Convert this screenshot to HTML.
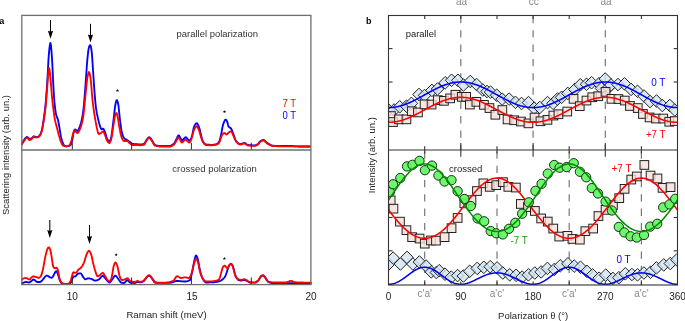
<!DOCTYPE html>
<html><head><meta charset="utf-8"><style>
html,body{margin:0;padding:0;background:#fff;width:685px;height:321px;overflow:hidden}
svg{display:block;will-change:transform}
</style></head><body>
<svg width="685" height="321" viewBox="0 0 685 321" font-family='"Liberation Sans", sans-serif'>
<rect width="685" height="321" fill="#fff"/>
<g fill="none" stroke-linejoin="round" stroke-linecap="round">
<path d="M21.9,143.5 22.4,142.6 22.9,141.7 23.4,140.8 23.9,140.1 24.4,139.5 24.9,138.8 25.4,138.1 25.9,137.6 26.4,137.2 26.9,137.0 27.4,137.1 27.9,137.5 28.4,138.0 28.9,138.5 29.4,138.9 29.9,139.0 30.4,138.9 30.9,138.7 31.4,138.4 31.9,138.1 32.4,137.7 32.9,137.1 33.4,136.6 33.9,136.3 34.4,136.4 34.9,136.6 35.4,136.8 35.9,137.0 36.4,137.0 36.9,136.9 37.4,136.9 37.9,136.8 38.4,136.6 38.9,136.2 39.4,135.7 39.9,135.1 40.4,134.4 40.9,133.2 41.4,131.8 41.9,129.9 42.4,127.4 42.9,124.5 43.4,121.3 43.9,117.7 44.4,114.1 44.9,110.3 45.4,106.0 45.9,100.6 46.4,94.3 46.9,87.1 47.4,79.5 47.9,70.8 48.4,60.9 48.9,53.9 49.4,48.7 49.9,44.6 50.4,43.0 50.9,45.1 51.4,50.2 51.9,56.7 52.4,65.1 52.9,76.7 53.4,86.7 53.9,95.0 54.4,101.9 54.9,106.7 55.4,110.6 55.9,113.5 56.4,115.5 56.9,116.9 57.4,118.1 57.9,119.6 58.4,121.8 58.9,124.5 59.4,127.4 59.9,130.5 60.4,133.7 60.9,136.5 61.4,138.6 61.9,140.3 62.4,141.7 62.9,143.2 63.4,144.5 63.9,145.4 64.4,145.7 64.9,145.9 65.4,146.1 65.9,146.2 66.4,146.3 66.9,146.3 67.4,146.3 67.9,146.2 68.4,146.1 68.9,146.0 69.4,145.8 69.9,145.5 70.4,145.2 70.9,144.3 71.4,143.2 71.9,141.8 72.4,139.6 72.9,136.3 73.4,133.4 73.9,131.7 74.4,130.3 74.9,129.5 75.4,129.6 75.9,129.9 76.4,130.4 76.9,130.8 77.4,131.0 77.9,130.8 78.4,130.1 78.9,129.0 79.4,127.7 79.9,126.3 80.4,124.8 80.9,123.2 81.4,121.3 81.9,119.1 82.4,116.5 82.9,113.6 83.4,110.0 83.9,104.9 84.4,99.0 84.9,92.6 85.4,86.2 85.9,79.6 86.4,72.3 86.9,65.0 87.4,59.0 87.9,54.3 88.4,50.1 88.9,47.3 89.4,46.0 89.9,45.2 90.4,45.2 90.9,46.8 91.4,49.4 91.9,53.7 92.4,60.8 92.9,68.6 93.4,75.9 93.9,83.6 94.4,90.7 94.9,96.9 95.4,102.6 95.9,107.2 96.4,110.6 96.9,113.4 97.4,115.8 97.9,118.1 98.4,120.2 98.9,122.3 99.4,124.1 99.9,125.7 100.4,127.2 100.9,128.5 101.4,129.3 101.9,129.2 102.4,128.9 102.9,128.7 103.4,128.9 103.9,129.6 104.4,130.6 104.9,131.8 105.4,133.1 105.9,134.9 106.4,136.8 106.9,138.3 107.4,139.3 107.9,140.3 108.4,141.1 108.9,141.5 109.4,141.3 109.9,140.6 110.4,139.6 110.9,138.3 111.4,136.4 111.9,133.2 112.4,129.3 112.9,124.9 113.4,120.8 113.9,116.7 114.4,112.1 114.9,107.8 115.4,104.5 115.9,102.2 116.4,100.4 116.9,100.1 117.4,101.1 117.9,102.7 118.4,105.2 118.9,109.5 119.4,114.6 119.9,119.2 120.4,123.0 120.9,126.7 121.4,130.1 121.9,132.6 122.4,134.4 122.9,135.9 123.4,137.1 123.9,137.9 124.4,138.4 124.9,138.8 125.4,139.1 125.9,139.4 126.4,139.6 126.9,139.9 127.4,140.3 127.9,140.6 128.4,140.9 128.9,141.3 129.4,141.6 129.9,141.9 130.4,142.3 130.9,142.7 131.4,143.1 131.9,143.5 132.4,143.8 132.9,144.0 133.4,144.0 133.9,144.1 134.4,144.1 134.9,144.1 135.4,144.1 135.9,144.1 136.4,144.2 136.9,144.2 137.4,144.2 137.9,144.3 138.4,144.4 138.9,144.4 139.4,144.5 139.9,144.5 140.4,144.5 140.9,144.5 141.4,144.4 141.9,144.4 142.4,144.3 142.9,144.2 143.4,144.1 143.9,144.0 144.4,143.5 144.9,142.8 145.4,141.9 145.9,140.9 146.4,140.1 146.9,139.5 147.4,138.8 147.9,138.1 148.4,137.6 148.9,137.3 149.4,137.2 149.9,137.5 150.4,138.1 150.9,138.8 151.4,139.6 151.9,140.4 152.4,141.1 152.9,142.0 153.4,142.9 153.9,143.8 154.4,144.5 154.9,145.0 155.4,145.1 155.9,145.3 156.4,145.5 156.9,145.6 157.4,145.7 157.9,145.8 158.4,145.9 158.9,145.9 159.4,146.0 159.9,146.0 160.4,146.0 160.9,146.0 161.4,146.0 161.9,146.0 162.4,146.0 162.9,146.0 163.4,146.0 163.9,146.0 164.4,146.0 164.9,146.0 165.4,145.9 165.9,145.9 166.4,145.9 166.9,145.9 167.4,145.9 167.9,145.9 168.4,145.9 168.9,145.8 169.4,145.8 169.9,145.8 170.4,145.8 170.9,145.6 171.4,145.4 171.9,145.1 172.4,144.8 172.9,144.4 173.4,144.0 173.9,143.6 174.4,143.0 174.9,142.2 175.4,141.2 175.9,140.2 176.4,139.2 176.9,138.2 177.4,137.0 177.9,136.0 178.4,135.4 178.9,135.4 179.4,136.1 179.9,137.0 180.4,137.9 180.9,138.7 181.4,139.6 181.9,140.3 182.4,140.5 182.9,140.0 183.4,139.3 183.9,138.6 184.4,138.1 184.9,137.7 185.4,137.3 185.9,137.2 186.4,137.5 186.9,138.1 187.4,138.8 187.9,139.4 188.4,139.8 188.9,140.1 189.4,140.4 189.9,140.5 190.4,140.2 190.9,139.3 191.4,137.9 191.9,136.3 192.4,134.4 192.9,131.8 193.4,129.2 193.9,127.2 194.4,126.1 194.9,125.1 195.4,124.3 195.9,123.6 196.4,123.3 196.9,123.2 197.4,123.7 197.9,124.5 198.4,125.6 198.9,126.8 199.4,128.2 199.9,130.2 200.4,132.5 200.9,134.6 201.4,136.5 201.9,138.4 202.4,140.1 202.9,141.3 203.4,142.1 203.9,142.8 204.4,143.4 204.9,143.9 205.4,144.3 205.9,144.5 206.4,144.5 206.9,144.6 207.4,144.6 207.9,144.7 208.4,144.7 208.9,144.7 209.4,144.7 209.9,144.8 210.4,144.8 210.9,144.8 211.4,144.8 211.9,144.8 212.4,144.8 212.9,144.8 213.4,144.7 213.9,144.7 214.4,144.6 214.9,144.5 215.4,144.4 215.9,144.3 216.4,144.2 216.9,144.0 217.4,143.6 217.9,143.2 218.4,142.7 218.9,142.1 219.4,141.2 219.9,139.6 220.4,137.6 220.9,135.4 221.4,133.1 221.9,130.3 222.4,127.5 222.9,125.3 223.4,123.8 223.9,122.4 224.4,121.1 224.9,120.2 225.4,119.6 225.9,119.6 226.4,120.1 226.9,121.1 227.4,122.3 227.9,124.4 228.4,126.3 228.9,127.0 229.4,127.4 229.9,127.7 230.4,127.9 230.9,128.4 231.4,129.1 231.9,130.2 232.4,131.5 232.9,132.8 233.4,134.1 233.9,135.6 234.4,137.1 234.9,138.7 235.4,139.9 235.9,140.9 236.4,141.5 236.9,142.0 237.4,142.6 237.9,143.0 238.4,143.4 238.9,143.7 239.4,143.9 239.9,144.0 240.4,144.0 240.9,143.9 241.4,143.8 241.9,143.6 242.4,143.5 242.9,143.3 243.4,143.2 243.9,143.0 244.4,143.0 244.9,143.1 245.4,143.3 245.9,143.7 246.4,144.1 246.9,144.5 247.4,144.8 247.9,145.0 248.4,145.0 248.9,145.1 249.4,145.1 249.9,145.1 250.4,145.2 250.9,145.2 251.4,145.2 251.9,145.2 252.4,145.3 252.9,145.3 253.4,145.3 253.9,145.3 254.4,145.3 254.9,145.3 255.4,145.3 255.9,145.1 256.4,144.9 256.9,144.7 257.4,144.4 257.9,144.1 258.4,143.6 258.9,142.9 259.4,142.1 259.9,141.6 260.4,141.2 260.9,140.9 261.4,140.7 261.9,140.4 262.4,140.2 262.9,140.1 263.4,140.0 263.9,140.0 264.4,140.3 264.9,140.8 265.4,141.4 265.9,141.9 266.4,142.3 266.9,142.7 267.4,143.1 267.9,143.4 268.4,143.7 268.9,144.0 269.4,144.3 269.9,144.6 270.4,144.9 270.9,145.1 271.4,145.3 271.9,145.5 272.4,145.6 272.9,145.7 273.4,145.7 273.9,145.7 274.4,145.8 274.9,145.8 275.4,145.8 275.9,145.8 276.4,145.9 276.9,145.9 277.4,145.9 277.9,145.9 278.4,145.9 278.9,145.9 279.4,145.9 279.9,146.0 280.4,146.0 280.9,146.0 281.4,146.0 281.9,146.0 282.4,146.0 282.9,146.0 283.4,146.0 283.9,146.0 284.4,146.0 284.9,146.0 285.4,146.0 285.9,146.0 286.4,146.0 286.9,146.0 287.4,146.0 287.9,146.0 288.4,146.0 288.9,146.0 289.4,146.0 289.9,146.0 290.4,146.0 290.9,146.0 291.4,146.0 291.9,146.0 292.4,146.1 292.9,146.1 293.4,146.1 293.9,146.2 294.4,146.2 294.9,146.2 295.4,146.3 295.9,146.3 296.4,146.4 296.9,146.4 297.4,146.4 297.9,146.4 298.4,146.5 298.9,146.5 299.4,146.5 299.9,146.5 300.4,146.5 300.9,146.5 301.4,146.5 301.9,146.5 302.4,146.5 302.9,146.5 303.4,146.5 303.9,146.5 304.4,146.5 304.9,146.5 305.4,146.5 305.9,146.5 306.4,146.5 306.9,146.5 307.4,146.5 307.9,146.5 308.4,146.5 308.9,146.5 309.4,146.5 309.9,146.5" stroke="#0000ff" stroke-width="1.85"/>
<path d="M21.9,144.5 22.4,143.6 22.9,142.7 23.4,141.9 23.9,141.1 24.4,140.4 24.9,139.7 25.4,139.0 25.9,138.4 26.4,138.0 26.9,137.8 27.4,137.9 27.9,138.4 28.4,139.0 28.9,139.5 29.4,140.0 29.9,140.1 30.4,139.9 30.9,139.5 31.4,139.0 31.9,138.6 32.4,138.1 32.9,137.6 33.4,137.1 33.9,136.8 34.4,136.9 34.9,137.1 35.4,137.3 35.9,137.5 36.4,137.5 36.9,137.4 37.4,137.4 37.9,137.3 38.4,137.1 38.9,136.7 39.4,136.2 39.9,135.6 40.4,134.9 40.9,133.7 41.4,132.3 41.9,130.5 42.4,128.2 42.9,125.6 43.4,122.8 43.9,119.7 44.4,116.4 44.9,112.9 45.4,108.9 45.9,103.8 46.4,97.5 46.9,90.9 47.4,84.8 47.9,77.9 48.4,71.4 48.9,67.9 49.4,69.0 49.9,73.0 50.4,78.0 50.9,83.2 51.4,89.7 51.9,95.9 52.4,100.9 52.9,105.3 53.4,109.2 53.9,113.0 54.4,116.5 54.9,119.5 55.4,121.9 55.9,123.9 56.4,125.8 56.9,127.6 57.4,129.6 57.9,131.6 58.4,133.5 58.9,135.4 59.4,137.1 59.9,138.8 60.4,140.4 60.9,141.8 61.4,142.9 61.9,144.0 62.4,144.9 62.9,145.4 63.4,145.7 63.9,145.9 64.4,146.1 64.9,146.2 65.4,146.3 65.9,146.3 66.4,146.3 66.9,146.2 67.4,146.1 67.9,146.0 68.4,145.8 68.9,145.5 69.4,145.2 69.9,144.4 70.4,143.4 70.9,142.2 71.4,140.7 71.9,138.6 72.4,136.3 72.9,134.3 73.4,132.7 73.9,131.2 74.4,130.3 74.9,130.5 75.4,131.2 75.9,131.9 76.4,132.4 76.9,132.8 77.4,133.0 77.9,132.8 78.4,132.3 78.9,131.4 79.4,130.3 79.9,129.2 80.4,128.0 80.9,126.7 81.4,125.0 81.9,123.1 82.4,121.0 82.9,118.5 83.4,115.4 83.9,111.1 84.4,106.1 84.9,100.9 85.4,95.9 85.9,91.1 86.4,85.9 86.9,81.1 87.4,77.5 87.9,75.1 88.4,73.1 88.9,72.0 89.4,72.6 89.9,74.6 90.4,77.4 90.9,81.2 91.4,86.9 91.9,93.3 92.4,99.1 92.9,103.4 93.4,107.4 93.9,111.0 94.4,114.4 94.9,117.5 95.4,120.4 95.9,123.1 96.4,125.6 96.9,127.9 97.4,130.3 97.9,132.4 98.4,133.7 98.9,134.0 99.4,133.9 99.9,133.7 100.4,133.4 100.9,133.1 101.4,132.7 101.9,132.2 102.4,131.7 102.9,131.5 103.4,131.7 103.9,132.5 104.4,133.6 104.9,134.8 105.4,136.0 105.9,137.6 106.4,139.1 106.9,140.3 107.4,141.1 107.9,141.9 108.4,142.5 108.9,142.9 109.4,143.0 109.9,142.5 110.4,141.5 110.9,140.3 111.4,138.5 111.9,135.8 112.4,132.4 112.9,128.9 113.4,125.6 113.9,122.5 114.4,119.2 114.9,116.2 115.4,114.2 115.9,113.3 116.4,113.0 116.9,114.0 117.4,115.7 117.9,117.8 118.4,120.9 118.9,124.3 119.4,127.5 119.9,130.1 120.4,132.7 120.9,135.0 121.4,136.7 121.9,138.0 122.4,139.1 122.9,140.0 123.4,140.7 123.9,141.0 124.4,141.0 124.9,141.0 125.4,141.0 125.9,141.0 126.4,141.0 126.9,141.0 127.4,141.1 127.9,141.4 128.4,141.9 128.9,142.5 129.4,143.0 129.9,143.4 130.4,143.8 130.9,144.1 131.4,144.4 131.9,144.7 132.4,144.9 132.9,145.0 133.4,145.0 133.9,145.0 134.4,145.0 134.9,145.0 135.4,145.0 135.9,145.0 136.4,145.0 136.9,145.0 137.4,145.0 137.9,145.0 138.4,145.1 138.9,145.1 139.4,145.2 139.9,145.2 140.4,145.2 140.9,145.2 141.4,145.1 141.9,145.1 142.4,145.0 142.9,145.0 143.4,144.9 143.9,144.8 144.4,144.3 144.9,143.6 145.4,142.6 145.9,141.7 146.4,140.8 146.9,140.1 147.4,139.4 147.9,138.7 148.4,138.1 148.9,137.8 149.4,137.7 149.9,138.1 150.4,138.7 150.9,139.5 151.4,140.3 151.9,141.1 152.4,141.8 152.9,142.6 153.4,143.5 153.9,144.4 154.4,145.0 154.9,145.5 155.4,145.6 155.9,145.8 156.4,146.0 156.9,146.1 157.4,146.2 157.9,146.3 158.4,146.4 158.9,146.4 159.4,146.5 159.9,146.5 160.4,146.5 160.9,146.5 161.4,146.5 161.9,146.5 162.4,146.5 162.9,146.5 163.4,146.5 163.9,146.5 164.4,146.5 164.9,146.5 165.4,146.5 165.9,146.5 166.4,146.5 166.9,146.5 167.4,146.5 167.9,146.5 168.4,146.5 168.9,146.5 169.4,146.5 169.9,146.5 170.4,146.5 170.9,146.4 171.4,146.2 171.9,146.0 172.4,145.7 172.9,145.3 173.4,145.0 173.9,144.6 174.4,144.1 174.9,143.3 175.4,142.5 175.9,141.5 176.4,140.7 176.9,139.8 177.4,138.8 177.9,138.0 178.4,137.5 178.9,137.7 179.4,138.5 179.9,139.4 180.4,140.4 180.9,141.2 181.4,142.0 181.9,142.5 182.4,142.4 182.9,142.0 183.4,141.4 183.9,140.9 184.4,140.4 184.9,139.9 185.4,139.5 185.9,139.6 186.4,140.1 186.9,140.8 187.4,141.4 187.9,141.8 188.4,142.1 188.9,142.4 189.4,142.5 189.9,142.2 190.4,141.4 190.9,140.1 191.4,138.8 191.9,137.3 192.4,135.5 192.9,133.5 193.4,131.7 193.9,130.2 194.4,129.2 194.9,128.1 195.4,127.3 195.9,126.6 196.4,126.3 196.9,126.5 197.4,127.0 197.9,127.9 198.4,128.9 198.9,130.0 199.4,131.5 199.9,133.3 200.4,135.1 200.9,136.6 201.4,138.1 201.9,139.6 202.4,140.8 202.9,141.8 203.4,142.6 203.9,143.3 204.4,143.9 204.9,144.4 205.4,144.8 205.9,145.0 206.4,145.0 206.9,145.1 207.4,145.1 207.9,145.1 208.4,145.1 208.9,145.2 209.4,145.2 209.9,145.2 210.4,145.2 210.9,145.2 211.4,145.2 211.9,145.2 212.4,145.2 212.9,145.2 213.4,145.1 213.9,145.1 214.4,145.0 214.9,145.0 215.4,144.9 215.9,144.8 216.4,144.7 216.9,144.5 217.4,144.3 217.9,144.0 218.4,143.6 218.9,143.1 219.4,142.3 219.9,140.9 220.4,139.3 220.9,137.8 221.4,136.5 221.9,135.2 222.4,134.3 222.9,133.8 223.4,133.4 223.9,133.1 224.4,133.0 224.9,133.2 225.4,133.6 225.9,134.2 226.4,134.5 226.9,134.4 227.4,134.0 227.9,133.4 228.4,132.8 228.9,132.4 229.4,132.1 229.9,131.7 230.4,131.4 230.9,131.3 231.4,131.5 231.9,132.3 232.4,133.4 232.9,134.6 233.4,135.8 233.9,136.8 234.4,137.9 234.9,139.1 235.4,140.2 235.9,141.2 236.4,141.9 236.9,142.4 237.4,142.9 237.9,143.4 238.4,143.8 238.9,144.2 239.4,144.4 239.9,144.5 240.4,144.5 240.9,144.4 241.4,144.3 241.9,144.1 242.4,144.0 242.9,143.8 243.4,143.7 243.9,143.5 244.4,143.5 244.9,143.6 245.4,143.8 245.9,144.2 246.4,144.6 246.9,145.0 247.4,145.3 247.9,145.5 248.4,145.5 248.9,145.6 249.4,145.6 249.9,145.6 250.4,145.7 250.9,145.7 251.4,145.7 251.9,145.7 252.4,145.8 252.9,145.8 253.4,145.8 253.9,145.8 254.4,145.8 254.9,145.8 255.4,145.8 255.9,145.6 256.4,145.4 256.9,145.2 257.4,144.9 257.9,144.6 258.4,144.1 258.9,143.4 259.4,142.6 259.9,142.1 260.4,141.7 260.9,141.4 261.4,141.2 261.9,140.9 262.4,140.7 262.9,140.6 263.4,140.5 263.9,140.5 264.4,140.8 264.9,141.3 265.4,141.9 265.9,142.4 266.4,142.8 266.9,143.2 267.4,143.6 267.9,143.9 268.4,144.2 268.9,144.5 269.4,144.8 269.9,145.0 270.4,145.3 270.9,145.5 271.4,145.7 271.9,145.8 272.4,145.9 272.9,146.0 273.4,146.0 273.9,146.0 274.4,146.1 274.9,146.1 275.4,146.1 275.9,146.1 276.4,146.1 276.9,146.2 277.4,146.2 277.9,146.2 278.4,146.2 278.9,146.2 279.4,146.2 279.9,146.2 280.4,146.2 280.9,146.2 281.4,146.3 281.9,146.3 282.4,146.3 282.9,146.3 283.4,146.3 283.9,146.3 284.4,146.3 284.9,146.3 285.4,146.3 285.9,146.3 286.4,146.3 286.9,146.3 287.4,146.3 287.9,146.3 288.4,146.3 288.9,146.3 289.4,146.4 289.9,146.4 290.4,146.4 290.9,146.4 291.4,146.4 291.9,146.4 292.4,146.4 292.9,146.4 293.4,146.4 293.9,146.4 294.4,146.4 294.9,146.4 295.4,146.4 295.9,146.4 296.4,146.4 296.9,146.4 297.4,146.4 297.9,146.4 298.4,146.4 298.9,146.5 299.4,146.5 299.9,146.5 300.4,146.5 300.9,146.5 301.4,146.5 301.9,146.5 302.4,146.5 302.9,146.5 303.4,146.5 303.9,146.5 304.4,146.5 304.9,146.5 305.4,146.5 305.9,146.5 306.4,146.5 306.9,146.5 307.4,146.5 307.9,146.5 308.4,146.5 308.9,146.5 309.4,146.5 309.9,146.5" stroke="#ff0000" stroke-width="1.85"/>
<path d="M21.9,283.5 22.4,283.2 22.9,282.9 23.4,282.7 23.9,282.5 24.4,282.4 24.9,282.2 25.4,282.1 25.9,282.0 26.4,282.0 26.9,282.1 27.4,282.2 27.9,282.3 28.4,282.4 28.9,282.5 29.4,282.4 29.9,282.2 30.4,281.8 30.9,281.4 31.4,281.1 31.9,280.7 32.4,280.2 32.9,279.7 33.4,279.5 33.9,279.6 34.4,279.9 34.9,280.3 35.4,280.7 35.9,281.2 36.4,281.7 36.9,282.0 37.4,282.0 37.9,282.0 38.4,282.0 38.9,282.0 39.4,282.0 39.9,282.0 40.4,281.9 40.9,281.6 41.4,281.1 41.9,280.6 42.4,280.1 42.9,279.5 43.4,278.9 43.9,278.3 44.4,277.5 44.9,276.9 45.4,276.4 45.9,276.0 46.4,275.7 46.9,275.6 47.4,275.7 47.9,276.0 48.4,276.2 48.9,276.6 49.4,276.9 49.9,277.3 50.4,277.5 50.9,277.7 51.4,277.8 51.9,277.7 52.4,277.2 52.9,276.6 53.4,275.8 53.9,274.7 54.4,273.7 54.9,272.8 55.4,271.9 55.9,271.3 56.4,271.1 56.9,271.7 57.4,272.8 57.9,274.0 58.4,275.7 58.9,277.4 59.4,279.2 59.9,280.6 60.4,281.6 60.9,282.4 61.4,283.0 61.9,283.4 62.4,283.8 62.9,284.0 63.4,284.0 63.9,284.0 64.4,284.0 64.9,284.0 65.4,284.0 65.9,284.0 66.4,284.0 66.9,284.0 67.4,284.0 67.9,284.0 68.4,284.0 68.9,283.8 69.4,283.6 69.9,283.4 70.4,283.0 70.9,282.4 71.4,281.6 71.9,280.2 72.4,278.7 72.9,277.5 73.4,276.5 73.9,276.5 74.4,276.5 74.9,276.5 75.4,276.4 75.9,275.9 76.4,275.3 76.9,274.7 77.4,274.1 77.9,273.7 78.4,273.6 78.9,273.5 79.4,273.4 79.9,273.3 80.4,273.3 80.9,273.4 81.4,273.9 81.9,274.8 82.4,275.8 82.9,276.7 83.4,277.3 83.9,278.0 84.4,278.6 84.9,279.1 85.4,279.3 85.9,279.2 86.4,279.0 86.9,278.7 87.4,278.4 87.9,278.3 88.4,278.3 88.9,278.4 89.4,278.4 89.9,278.5 90.4,278.7 90.9,278.8 91.4,278.9 91.9,279.1 92.4,279.4 92.9,279.7 93.4,280.0 93.9,280.3 94.4,280.5 94.9,280.6 95.4,280.6 95.9,280.5 96.4,280.4 96.9,280.3 97.4,280.1 97.9,279.8 98.4,279.6 98.9,279.4 99.4,279.0 99.9,278.5 100.4,277.9 100.9,277.3 101.4,276.6 101.9,276.2 102.4,275.9 102.9,275.8 103.4,276.1 103.9,276.7 104.4,277.3 104.9,277.9 105.4,278.5 105.9,279.1 106.4,279.7 106.9,280.4 107.4,280.9 107.9,281.4 108.4,281.9 108.9,282.3 109.4,282.5 109.9,282.4 110.4,282.0 110.9,281.3 111.4,280.6 111.9,279.8 112.4,279.1 112.9,278.5 113.4,277.7 113.9,276.9 114.4,276.3 114.9,275.8 115.4,275.6 115.9,275.8 116.4,276.3 116.9,277.0 117.4,277.7 117.9,278.4 118.4,279.0 118.9,279.8 119.4,280.5 119.9,281.3 120.4,282.0 120.9,282.5 121.4,282.7 121.9,282.8 122.4,282.9 122.9,282.9 123.4,283.0 123.9,283.0 124.4,282.9 124.9,282.5 125.4,281.9 125.9,281.3 126.4,280.7 126.9,280.3 127.4,280.1 127.9,280.3 128.4,280.8 128.9,281.5 129.4,282.1 129.9,282.5 130.4,282.6 130.9,282.7 131.4,282.7 131.9,282.8 132.4,282.9 132.9,282.9 133.4,282.9 133.9,283.0 134.4,283.0 134.9,283.0 135.4,282.9 135.9,282.5 136.4,282.3 136.9,282.1 137.4,282.0 137.9,282.0 138.4,282.1 138.9,282.2 139.4,282.3 139.9,282.3 140.4,282.3 140.9,282.2 141.4,282.2 141.9,282.0 142.4,281.9 142.9,281.7 143.4,281.5 143.9,281.0 144.4,280.4 144.9,279.8 145.4,279.1 145.9,278.5 146.4,277.8 146.9,277.1 147.4,276.6 147.9,276.2 148.4,275.9 148.9,275.7 149.4,275.6 149.9,275.9 150.4,276.5 150.9,277.1 151.4,277.7 151.9,278.4 152.4,279.1 152.9,279.9 153.4,280.6 153.9,281.4 154.4,282.2 154.9,282.6 155.4,282.7 155.9,282.7 156.4,282.7 156.9,282.8 157.4,282.8 157.9,282.8 158.4,282.8 158.9,282.8 159.4,282.8 159.9,282.8 160.4,282.8 160.9,282.8 161.4,282.8 161.9,282.8 162.4,282.8 162.9,282.8 163.4,282.8 163.9,282.8 164.4,282.8 164.9,282.8 165.4,282.8 165.9,282.8 166.4,282.8 166.9,282.8 167.4,282.8 167.9,282.8 168.4,282.8 168.9,282.8 169.4,282.8 169.9,282.8 170.4,282.8 170.9,282.7 171.4,282.6 171.9,282.5 172.4,282.3 172.9,282.1 173.4,281.9 173.9,281.7 174.4,281.6 174.9,281.4 175.4,281.2 175.9,281.1 176.4,281.0 176.9,281.0 177.4,281.0 177.9,281.0 178.4,281.0 178.9,281.1 179.4,281.1 179.9,281.1 180.4,281.2 180.9,281.2 181.4,281.3 181.9,281.3 182.4,281.4 182.9,281.4 183.4,281.4 183.9,281.5 184.4,281.5 184.9,281.5 185.4,281.5 185.9,281.5 186.4,281.4 186.9,281.3 187.4,281.2 187.9,281.0 188.4,280.8 188.9,280.6 189.4,280.3 189.9,280.1 190.4,279.4 190.9,277.7 191.4,275.5 191.9,272.9 192.4,270.5 192.9,268.1 193.4,265.4 193.9,262.7 194.4,260.4 194.9,258.4 195.4,256.6 195.9,255.5 196.4,255.7 196.9,256.6 197.4,257.8 197.9,259.4 198.4,262.0 198.9,264.9 199.4,267.6 199.9,269.7 200.4,271.8 200.9,273.7 201.4,275.4 201.9,276.8 202.4,277.8 202.9,278.8 203.4,279.8 203.9,280.6 204.4,281.4 204.9,281.9 205.4,282.3 205.9,282.5 206.4,282.5 206.9,282.5 207.4,282.5 207.9,282.5 208.4,282.5 208.9,282.4 209.4,282.4 209.9,282.4 210.4,282.4 210.9,282.4 211.4,282.3 211.9,282.3 212.4,282.3 212.9,282.3 213.4,282.2 213.9,282.2 214.4,282.2 214.9,282.1 215.4,282.1 215.9,282.0 216.4,281.9 216.9,281.9 217.4,281.8 217.9,281.6 218.4,281.5 218.9,281.4 219.4,281.2 219.9,281.0 220.4,280.8 220.9,280.6 221.4,280.3 221.9,279.9 222.4,279.6 222.9,279.2 223.4,278.7 223.9,278.2 224.4,277.6 224.9,276.8 225.4,275.8 225.9,274.6 226.4,273.2 226.9,271.7 227.4,270.1 227.9,268.6 228.4,267.2 228.9,266.0 229.4,265.2 229.9,264.6 230.4,264.1 230.9,263.9 231.4,264.0 231.9,264.5 232.4,265.3 232.9,266.2 233.4,268.0 233.9,270.1 234.4,272.0 234.9,274.0 235.4,275.5 235.9,276.6 236.4,277.6 236.9,278.4 237.4,279.0 237.9,279.6 238.4,280.0 238.9,280.1 239.4,280.3 239.9,280.4 240.4,280.5 240.9,280.5 241.4,280.5 241.9,280.4 242.4,280.3 242.9,280.2 243.4,280.1 243.9,280.0 244.4,280.0 244.9,280.0 245.4,280.2 245.9,280.4 246.4,280.7 246.9,281.0 247.4,281.2 247.9,281.5 248.4,281.8 248.9,282.1 249.4,282.4 249.9,282.5 250.4,282.5 250.9,282.5 251.4,282.5 251.9,282.6 252.4,282.6 252.9,282.6 253.4,282.6 253.9,282.6 254.4,282.6 254.9,282.6 255.4,282.6 255.9,282.4 256.4,282.1 256.9,281.7 257.4,281.4 257.9,280.9 258.4,280.4 258.9,279.7 259.4,278.9 259.9,278.1 260.4,277.1 260.9,276.4 261.4,276.0 261.9,275.8 262.4,275.6 262.9,275.5 263.4,275.6 263.9,276.0 264.4,276.6 264.9,277.2 265.4,277.9 265.9,278.8 266.4,279.7 266.9,280.3 267.4,281.0 267.9,281.6 268.4,281.9 268.9,282.2 269.4,282.4 269.9,282.6 270.4,282.7 270.9,282.9 271.4,283.0 271.9,283.0 272.4,283.0 272.9,283.0 273.4,283.0 273.9,283.0 274.4,283.1 274.9,283.1 275.4,283.1 275.9,283.1 276.4,283.1 276.9,283.1 277.4,283.1 277.9,283.1 278.4,283.1 278.9,283.1 279.4,283.1 279.9,283.1 280.4,283.1 280.9,283.1 281.4,283.1 281.9,283.1 282.4,283.1 282.9,283.1 283.4,283.1 283.9,283.2 284.4,283.2 284.9,283.2 285.4,283.2 285.9,283.2 286.4,283.2 286.9,283.2 287.4,283.2 287.9,283.2 288.4,283.2 288.9,283.2 289.4,283.2 289.9,283.2 290.4,283.2 290.9,283.2 291.4,283.2 291.9,283.2 292.4,283.2 292.9,283.2 293.4,283.2 293.9,283.2 294.4,283.3 294.9,283.3 295.4,283.3 295.9,283.3 296.4,283.3 296.9,283.3 297.4,283.3 297.9,283.3 298.4,283.3 298.9,283.3 299.4,283.3 299.9,283.3 300.4,283.3 300.9,283.3 301.4,283.4 301.9,283.4 302.4,283.4 302.9,283.4 303.4,283.4 303.9,283.4 304.4,283.4 304.9,283.4 305.4,283.4 305.9,283.4 306.4,283.4 306.9,283.4 307.4,283.4 307.9,283.5 308.4,283.5 308.9,283.5 309.4,283.5 309.9,283.5 310.4,283.5 310.9,283.5" stroke="#0000ff" stroke-width="1.85"/>
<path d="M21.9,279.7 22.4,279.3 22.9,278.9 23.4,278.5 23.9,278.3 24.4,278.2 24.9,278.1 25.4,278.1 25.9,278.0 26.4,278.0 26.9,278.2 27.4,278.6 27.9,279.0 28.4,279.2 28.9,279.4 29.4,279.5 29.9,279.3 30.4,278.8 30.9,278.1 31.4,277.6 31.9,277.2 32.4,276.8 32.9,276.5 33.4,276.4 33.9,276.4 34.4,276.5 34.9,276.6 35.4,276.8 35.9,276.9 36.4,277.1 36.9,277.3 37.4,277.5 37.9,277.8 38.4,278.0 38.9,277.9 39.4,277.5 39.9,277.1 40.4,276.6 40.9,276.1 41.4,275.0 41.9,273.3 42.4,271.5 42.9,269.5 43.4,267.1 43.9,264.4 44.4,261.5 44.9,258.9 45.4,256.4 45.9,254.1 46.4,252.1 46.9,250.3 47.4,249.1 47.9,248.0 48.4,247.3 48.9,247.3 49.4,247.8 49.9,248.8 50.4,250.2 50.9,252.5 51.4,255.3 51.9,258.8 52.4,262.4 52.9,265.4 53.4,266.9 53.9,267.7 54.4,268.0 54.9,268.1 55.4,268.1 55.9,267.9 56.4,267.7 56.9,267.8 57.4,268.8 57.9,270.4 58.4,272.2 58.9,275.1 59.4,278.0 59.9,279.7 60.4,280.9 60.9,281.8 61.4,282.4 61.9,282.9 62.4,283.2 62.9,283.5 63.4,283.6 63.9,283.7 64.4,283.8 64.9,283.9 65.4,284.0 65.9,284.0 66.4,284.0 66.9,283.9 67.4,283.8 67.9,283.7 68.4,283.5 68.9,283.3 69.4,282.8 69.9,282.2 70.4,281.4 70.9,280.4 71.4,278.6 71.9,276.4 72.4,274.6 72.9,272.9 73.4,272.2 73.9,272.3 74.4,272.6 74.9,272.8 75.4,272.8 75.9,272.7 76.4,272.5 76.9,272.1 77.4,271.1 77.9,270.1 78.4,269.6 78.9,269.2 79.4,268.9 79.9,268.6 80.4,268.2 80.9,267.8 81.4,267.2 81.9,266.5 82.4,265.7 82.9,264.8 83.4,263.8 83.9,262.7 84.4,261.5 84.9,259.9 85.4,258.1 85.9,256.4 86.4,254.9 86.9,253.8 87.4,252.7 87.9,251.8 88.4,251.1 88.9,250.8 89.4,251.1 89.9,251.7 90.4,252.7 90.9,253.8 91.4,255.2 91.9,257.3 92.4,259.8 92.9,262.1 93.4,264.1 93.9,266.1 94.4,268.0 94.9,269.8 95.4,271.3 95.9,272.9 96.4,274.4 96.9,275.6 97.4,276.2 97.9,276.1 98.4,276.0 98.9,275.7 99.4,275.4 99.9,275.1 100.4,274.7 100.9,274.2 101.4,273.7 101.9,273.3 102.4,273.0 102.9,272.9 103.4,273.3 103.9,274.0 104.4,275.0 104.9,275.8 105.4,276.6 105.9,277.5 106.4,278.4 106.9,279.2 107.4,279.9 107.9,280.4 108.4,281.0 108.9,281.3 109.4,281.5 109.9,281.2 110.4,280.6 110.9,279.7 111.4,278.3 111.9,276.0 112.4,273.5 112.9,270.3 113.4,267.3 113.9,265.5 114.4,264.0 114.9,262.9 115.4,262.5 115.9,262.8 116.4,263.6 116.9,264.8 117.4,266.1 117.9,268.2 118.4,270.5 118.9,273.0 119.4,275.5 119.9,277.0 120.4,278.1 120.9,279.0 121.4,279.7 121.9,280.0 122.4,280.0 122.9,279.9 123.4,279.8 123.9,279.7 124.4,279.5 124.9,279.4 125.4,279.1 125.9,278.8 126.4,278.5 126.9,278.3 127.4,278.2 127.9,278.4 128.4,279.0 128.9,279.8 129.4,280.5 129.9,281.0 130.4,281.1 130.9,281.3 131.4,281.5 131.9,281.6 132.4,281.7 132.9,281.8 133.4,281.9 133.9,281.9 134.4,282.0 134.9,282.0 135.4,281.9 135.9,281.5 136.4,281.3 136.9,281.1 137.4,281.0 137.9,281.1 138.4,281.2 138.9,281.5 139.4,281.7 139.9,281.8 140.4,281.8 140.9,281.7 141.4,281.7 141.9,281.5 142.4,281.4 142.9,281.2 143.4,281.0 143.9,280.5 144.4,279.9 144.9,279.3 145.4,278.6 145.9,278.0 146.4,277.3 146.9,276.6 147.4,276.1 147.9,275.7 148.4,275.5 148.9,275.3 149.4,275.2 149.9,275.5 150.4,276.1 150.9,276.7 151.4,277.3 151.9,278.0 152.4,278.7 152.9,279.4 153.4,280.1 153.9,280.8 154.4,281.5 154.9,282.0 155.4,282.1 155.9,282.3 156.4,282.4 156.9,282.5 157.4,282.6 157.9,282.6 158.4,282.6 158.9,282.6 159.4,282.6 159.9,282.6 160.4,282.6 160.9,282.6 161.4,282.6 161.9,282.6 162.4,282.6 162.9,282.6 163.4,282.6 163.9,282.6 164.4,282.6 164.9,282.6 165.4,282.6 165.9,282.6 166.4,282.5 166.9,282.5 167.4,282.4 167.9,282.4 168.4,282.3 168.9,282.2 169.4,282.1 169.9,282.0 170.4,281.8 170.9,281.7 171.4,281.5 171.9,281.4 172.4,281.2 172.9,281.0 173.4,280.8 173.9,280.2 174.4,279.5 174.9,278.7 175.4,277.9 175.9,277.2 176.4,276.6 176.9,276.3 177.4,276.2 177.9,276.4 178.4,276.6 178.9,277.0 179.4,277.3 179.9,277.6 180.4,277.9 180.9,278.0 181.4,278.0 181.9,277.9 182.4,277.8 182.9,277.7 183.4,277.5 183.9,277.4 184.4,277.3 184.9,277.3 185.4,277.3 185.9,277.4 186.4,277.5 186.9,277.6 187.4,277.8 187.9,277.9 188.4,278.0 188.9,278.0 189.4,277.8 189.9,277.2 190.4,276.2 190.9,275.0 191.4,273.7 191.9,272.3 192.4,270.7 192.9,268.6 193.4,266.3 193.9,264.1 194.4,262.3 194.9,260.9 195.4,259.5 195.9,258.8 196.4,259.0 196.9,259.6 197.4,260.6 197.9,261.8 198.4,263.5 198.9,266.2 199.4,269.2 199.9,271.6 200.4,273.3 200.9,274.7 201.4,276.0 201.9,277.2 202.4,278.1 202.9,278.9 203.4,279.5 203.9,280.1 204.4,280.6 204.9,281.1 205.4,281.4 205.9,281.5 206.4,281.5 206.9,281.5 207.4,281.5 207.9,281.5 208.4,281.5 208.9,281.4 209.4,281.4 209.9,281.4 210.4,281.4 210.9,281.4 211.4,281.3 211.9,281.3 212.4,281.3 212.9,281.2 213.4,281.2 213.9,281.1 214.4,281.1 214.9,281.0 215.4,280.9 215.9,280.8 216.4,280.7 216.9,280.6 217.4,280.4 217.9,280.2 218.4,279.9 218.9,279.6 219.4,278.9 219.9,277.5 220.4,275.8 220.9,274.0 221.4,271.9 221.9,270.1 222.4,268.4 222.9,267.1 223.4,266.5 223.9,266.0 224.4,265.7 224.9,265.6 225.4,266.1 225.9,266.9 226.4,267.5 226.9,268.0 227.4,268.3 227.9,267.8 228.4,266.7 228.9,265.6 229.4,265.0 229.9,264.5 230.4,264.0 230.9,263.8 231.4,264.0 231.9,264.7 232.4,265.6 232.9,266.7 233.4,268.5 233.9,270.6 234.4,272.5 234.9,274.4 235.4,275.7 235.9,276.7 236.4,277.5 236.9,278.1 237.4,278.6 237.9,279.1 238.4,279.4 238.9,279.5 239.4,279.6 239.9,279.7 240.4,279.8 240.9,279.8 241.4,279.8 241.9,279.7 242.4,279.6 242.9,279.5 243.4,279.3 243.9,279.2 244.4,279.2 244.9,279.3 245.4,279.5 245.9,279.8 246.4,280.1 246.9,280.4 247.4,280.7 247.9,281.1 248.4,281.5 248.9,281.8 249.4,282.1 249.9,282.2 250.4,282.2 250.9,282.2 251.4,282.2 251.9,282.3 252.4,282.3 252.9,282.3 253.4,282.3 253.9,282.3 254.4,282.3 254.9,282.3 255.4,282.3 255.9,282.1 256.4,281.8 256.9,281.4 257.4,281.1 257.9,280.6 258.4,280.1 258.9,279.4 259.4,278.6 259.9,277.8 260.4,276.8 260.9,276.1 261.4,275.7 261.9,275.5 262.4,275.3 262.9,275.2 263.4,275.3 263.9,275.7 264.4,276.3 264.9,276.9 265.4,277.6 265.9,278.5 266.4,279.4 266.9,280.0 267.4,280.6 267.9,281.1 268.4,281.5 268.9,281.7 269.4,281.8 269.9,282.0 270.4,282.1 270.9,282.2 271.4,282.3 271.9,282.3 272.4,282.3 272.9,282.3 273.4,282.3 273.9,282.4 274.4,282.4 274.9,282.4 275.4,282.4 275.9,282.4 276.4,282.4 276.9,282.4 277.4,282.4 277.9,282.4 278.4,282.5 278.9,282.5 279.4,282.5 279.9,282.5 280.4,282.5 280.9,282.5 281.4,282.5 281.9,282.5 282.4,282.5 282.9,282.5 283.4,282.5 283.9,282.5 284.4,282.5 284.9,282.5 285.4,282.5 285.9,282.4 286.4,282.3 286.9,282.1 287.4,282.0 287.9,281.8 288.4,281.7 288.9,281.5 289.4,281.2 289.9,281.0 290.4,280.9 290.9,280.8 291.4,280.9 291.9,281.0 292.4,281.3 292.9,281.6 293.4,281.8 293.9,282.0 294.4,282.1 294.9,282.1 295.4,282.2 295.9,282.2 296.4,282.3 296.9,282.3 297.4,282.4 297.9,282.4 298.4,282.4 298.9,282.5 299.4,282.5 299.9,282.5 300.4,282.5 300.9,282.5 301.4,282.5 301.9,282.5 302.4,282.5 302.9,282.5 303.4,282.6 303.9,282.6 304.4,282.6 304.9,282.6 305.4,282.6 305.9,282.6 306.4,282.6 306.9,282.6 307.4,282.6 307.9,282.6 308.4,282.6 308.9,282.6 309.4,282.6 309.9,282.6 310.4,282.6 310.9,282.6" stroke="#ff0000" stroke-width="1.85"/>
</g>
<g stroke="#6e6e6e" stroke-width="1.3" fill="none">
<rect x="21.8" y="15.4" width="289.1" height="269.2"/>
<line x1="21.8" y1="150" x2="310.9" y2="150"/>
</g>
<g stroke="#2a2a2a" stroke-width="1">
<line x1="72.3" y1="149.5" x2="72.3" y2="142.8"/>
<line x1="72.3" y1="284" x2="72.3" y2="277.5"/>
<line x1="131.6" y1="149.5" x2="131.6" y2="142.8"/>
<line x1="131.6" y1="284" x2="131.6" y2="277.5"/>
<line x1="191.4" y1="149.5" x2="191.4" y2="142.8"/>
<line x1="191.4" y1="284" x2="191.4" y2="277.5"/>
<line x1="251.3" y1="149.5" x2="251.3" y2="142.8"/>
<line x1="251.3" y1="284" x2="251.3" y2="277.5"/>
</g>
<line x1="50.5" y1="20.1" x2="50.5" y2="32.8" stroke="#000" stroke-width="1.05"/><path d="M47.9,30.799999999999997Q50.5,32.199999999999996 53.1,30.799999999999997L50.5,38.8Z" fill="#000"/>
<line x1="90.5" y1="23.8" x2="90.5" y2="36.5" stroke="#000" stroke-width="1.05"/><path d="M87.9,34.5Q90.5,35.9 93.1,34.5L90.5,42.5Z" fill="#000"/>
<line x1="49.8" y1="219.9" x2="49.8" y2="232.1" stroke="#000" stroke-width="1.05"/><path d="M47.199999999999996,230.1Q49.8,231.5 52.4,230.1L49.8,238.1Z" fill="#000"/>
<line x1="89.5" y1="224.9" x2="89.5" y2="238" stroke="#000" stroke-width="1.05"/><path d="M86.9,236Q89.5,237.4 92.1,236L89.5,244Z" fill="#000"/>
<polygon points="117.50,88.80 117.94,89.89 119.12,89.97 118.21,90.73 118.50,91.88 117.50,91.25 116.50,91.88 116.79,90.73 115.88,89.97 117.06,89.89" fill="#111"/>
<polygon points="224.50,110.00 224.94,111.09 226.12,111.17 225.21,111.93 225.50,113.08 224.50,112.45 223.50,113.08 223.79,111.93 222.88,111.17 224.06,111.09" fill="#111"/>
<polygon points="116.20,253.10 116.64,254.19 117.82,254.27 116.91,255.03 117.20,256.18 116.20,255.55 115.20,256.18 115.49,255.03 114.58,254.27 115.76,254.19" fill="#111"/>
<polygon points="224.40,256.80 224.84,257.89 226.02,257.97 225.11,258.73 225.40,259.88 224.40,259.25 223.40,259.88 223.69,258.73 222.78,257.97 223.96,257.89" fill="#111"/>
<text x="176.6" y="37.0" font-size="9.5" fill="#333" textLength="81.4" lengthAdjust="spacingAndGlyphs">parallel polarization</text>
<text x="172.3" y="172.2" font-size="9.5" fill="#333" textLength="84.4" lengthAdjust="spacingAndGlyphs">crossed polarization</text>
<text x="282.6" y="106.9" font-size="10" fill="#ff0000" textLength="13.6" lengthAdjust="spacingAndGlyphs">7 T</text>
<text x="282.6" y="119.4" font-size="10" fill="#0000ff" textLength="13.6" lengthAdjust="spacingAndGlyphs">0 T</text>
<text x="72.3" y="300.2" font-size="10" fill="#222" text-anchor="middle">10</text>
<text x="192" y="300.4" font-size="10" fill="#222" text-anchor="middle">15</text>
<text x="311" y="300.4" font-size="10" fill="#222" text-anchor="middle">20</text>
<text x="126.4" y="318" font-size="9.5" fill="#222" textLength="80.3" lengthAdjust="spacingAndGlyphs">Raman shift (meV)</text>
<text transform="translate(8.8,214.9) rotate(-90)" font-size="9.4" fill="#222" textLength="119.8" lengthAdjust="spacingAndGlyphs">Scattering intensity (arb. un.)</text>
<text x="-0.7" y="24.4" font-size="9" font-weight="bold" fill="#000">a</text>
<text x="365.9" y="24.3" font-size="9" font-weight="bold" fill="#000">b</text>
<g stroke="#777" stroke-width="1.2" stroke-dasharray="7.3,7">
<line x1="460.8" y1="16" x2="460.8" y2="150"/>
<line x1="533.1" y1="16" x2="533.1" y2="150"/>
<line x1="605.3" y1="16" x2="605.3" y2="150"/>
<line x1="424.7" y1="151.4" x2="424.7" y2="285"/>
<line x1="497.0" y1="151.4" x2="497.0" y2="285"/>
<line x1="569.2" y1="151.4" x2="569.2" y2="285"/>
<line x1="641.4" y1="151.4" x2="641.4" y2="285"/>
</g>
<defs><clipPath id="cp"><rect x="388.5" y="15.5" width="289" height="269.5"/></clipPath></defs>
<g clip-path="url(#cp)">
<g fill="#d2e5f3" fill-opacity="0.8" stroke="#222" stroke-width="1">
<path d="M388.5,103.7L394.8,110.0L388.5,116.3L382.2,110.0Z"/>
<path d="M394.1,103.7L400.4,110.0L394.1,116.3L387.8,110.0Z"/>
<path d="M399.7,100.5L406.0,106.8L399.7,113.1L393.4,106.8Z"/>
<path d="M406.5,99.9L412.8,106.2L406.5,112.5L400.2,106.2Z"/>
<path d="M411.4,97.1L417.7,103.4L411.4,109.7L405.1,103.4Z"/>
<path d="M419.0,88.2L425.3,94.5L419.0,100.8L412.7,94.5Z"/>
<path d="M424.5,89.2L430.8,95.5L424.5,101.8L418.2,95.5Z"/>
<path d="M431.9,84.1L438.2,90.4L431.9,96.7L425.6,90.4Z"/>
<path d="M437.5,82.7L443.8,89.0L437.5,95.3L431.2,89.0Z"/>
<path d="M445.2,76.5L451.5,82.8L445.2,89.1L438.9,82.8Z"/>
<path d="M451.6,74.0L457.9,80.3L451.6,86.6L445.3,80.3Z"/>
<path d="M457.9,74.0L464.2,80.3L457.9,86.6L451.6,80.3Z"/>
<path d="M463.5,78.7L469.8,85.0L463.5,91.3L457.2,85.0Z"/>
<path d="M470.3,75.2L476.6,81.5L470.3,87.8L464.0,81.5Z"/>
<path d="M476.6,78.2L482.9,84.5L476.6,90.8L470.3,84.5Z"/>
<path d="M482.8,83.7L489.1,90.0L482.8,96.3L476.5,90.0Z"/>
<path d="M487.0,85.2L493.3,91.5L487.0,97.8L480.7,91.5Z"/>
<path d="M490.5,85.8L496.8,92.1L490.5,98.4L484.2,92.1Z"/>
<path d="M496.7,88.9L503.0,95.2L496.7,101.5L490.4,95.2Z"/>
<path d="M502.1,92.8L508.4,99.1L502.1,105.4L495.8,99.1Z"/>
<path d="M509.1,92.8L515.4,99.1L509.1,105.4L502.8,99.1Z"/>
<path d="M515.4,96.0L521.7,102.3L515.4,108.6L509.1,102.3Z"/>
<path d="M521.5,97.2L527.8,103.5L521.5,109.8L515.2,103.5Z"/>
<path d="M528.5,96.3L534.8,102.6L528.5,108.9L522.2,102.6Z"/>
<path d="M534.1,101.9L540.4,108.2L534.1,114.5L527.8,108.2Z"/>
<path d="M539.8,101.2L546.1,107.5L539.8,113.8L533.5,107.5Z"/>
<path d="M547.5,96.3L553.8,102.6L547.5,108.9L541.2,102.6Z"/>
<path d="M553.1,97.0L559.4,103.3L553.1,109.6L546.8,103.3Z"/>
<path d="M557.5,92.7L563.8,99.0L557.5,105.3L551.2,99.0Z"/>
<path d="M561.6,91.0L567.9,97.3L561.6,103.6L555.3,97.3Z"/>
<path d="M567.8,87.1L574.1,93.4L567.8,99.7L561.5,93.4Z"/>
<path d="M574.8,83.2L581.1,89.5L574.8,95.8L568.5,89.5Z"/>
<path d="M580.3,78.5L586.6,84.8L580.3,91.1L574.0,84.8Z"/>
<path d="M586.5,78.0L592.8,84.3L586.5,90.6L580.2,84.3Z"/>
<path d="M591.6,76.4L597.9,82.7L591.6,89.0L585.3,82.7Z"/>
<path d="M599.0,77.4L605.3,83.7L599.0,90.0L592.7,83.7Z"/>
<path d="M601.4,82.1L607.7,88.4L601.4,94.7L595.1,88.4Z"/>
<path d="M605.2,72.7L611.5,79.0L605.2,85.3L598.9,79.0Z"/>
<path d="M608.4,81.3L614.7,87.6L608.4,93.9L602.1,87.6Z"/>
<path d="M611.0,78.7L617.3,85.0L611.0,91.3L604.7,85.0Z"/>
<path d="M618.0,78.2L624.3,84.5L618.0,90.8L611.7,84.5Z"/>
<path d="M624.5,77.5L630.8,83.8L624.5,90.1L618.2,83.8Z"/>
<path d="M631.1,83.1L637.4,89.4L631.1,95.7L624.8,89.4Z"/>
<path d="M637.5,85.0L643.8,91.3L637.5,97.6L631.2,91.3Z"/>
<path d="M644.0,89.7L650.3,96.0L644.0,102.3L637.7,96.0Z"/>
<path d="M650.0,95.2L656.3,101.5L650.0,107.8L643.7,101.5Z"/>
<path d="M656.5,94.7L662.8,101.0L656.5,107.3L650.2,101.0Z"/>
<path d="M662.3,99.2L668.6,105.5L662.3,111.8L656.0,105.5Z"/>
<path d="M669.8,99.2L676.1,105.5L669.8,111.8L663.5,105.5Z"/>
<path d="M674.8,103.7L681.1,110.0L674.8,116.3L668.5,110.0Z"/>
</g>
<g fill="#f7e0d9" fill-opacity="0.8" stroke="#222" stroke-width="1">
<rect x="386.6" y="111.7" width="8.7" height="8.7"/>
<rect x="388.6" y="117.7" width="8.7" height="8.7"/>
<rect x="394.6" y="115.0" width="8.7" height="8.7"/>
<rect x="402.1" y="115.0" width="8.7" height="8.7"/>
<rect x="407.4" y="106.9" width="8.7" height="8.7"/>
<rect x="413.6" y="108.1" width="8.7" height="8.7"/>
<rect x="420.2" y="100.0" width="8.7" height="8.7"/>
<rect x="427.2" y="100.2" width="8.7" height="8.7"/>
<rect x="433.4" y="95.8" width="8.7" height="8.7"/>
<rect x="439.6" y="96.5" width="8.7" height="8.7"/>
<rect x="445.8" y="94.0" width="8.7" height="8.7"/>
<rect x="451.1" y="90.4" width="8.7" height="8.7"/>
<rect x="457.4" y="92.5" width="8.7" height="8.7"/>
<rect x="461.8" y="92.5" width="8.7" height="8.7"/>
<rect x="465.5" y="100.2" width="8.7" height="8.7"/>
<rect x="472.0" y="97.5" width="8.7" height="8.7"/>
<rect x="479.6" y="100.5" width="8.7" height="8.7"/>
<rect x="485.1" y="103.7" width="8.7" height="8.7"/>
<rect x="491.0" y="110.4" width="8.7" height="8.7"/>
<rect x="498.0" y="105.7" width="8.7" height="8.7"/>
<rect x="503.2" y="115.1" width="8.7" height="8.7"/>
<rect x="509.8" y="115.9" width="8.7" height="8.7"/>
<rect x="516.6" y="117.2" width="8.7" height="8.7"/>
<rect x="524.1" y="119.0" width="8.7" height="8.7"/>
<rect x="530.2" y="113.2" width="8.7" height="8.7"/>
<rect x="536.1" y="116.9" width="8.7" height="8.7"/>
<rect x="543.1" y="115.5" width="8.7" height="8.7"/>
<rect x="549.0" y="111.2" width="8.7" height="8.7"/>
<rect x="554.1" y="109.9" width="8.7" height="8.7"/>
<rect x="562.9" y="107.2" width="8.7" height="8.7"/>
<rect x="569.2" y="94.5" width="8.7" height="8.7"/>
<rect x="575.4" y="101.8" width="8.7" height="8.7"/>
<rect x="582.1" y="96.2" width="8.7" height="8.7"/>
<rect x="587.9" y="92.9" width="8.7" height="8.7"/>
<rect x="593.9" y="91.9" width="8.7" height="8.7"/>
<rect x="601.2" y="87.5" width="8.7" height="8.7"/>
<rect x="607.1" y="94.5" width="8.7" height="8.7"/>
<rect x="614.1" y="94.7" width="8.7" height="8.7"/>
<rect x="620.4" y="96.2" width="8.7" height="8.7"/>
<rect x="625.6" y="101.6" width="8.7" height="8.7"/>
<rect x="633.4" y="103.7" width="8.7" height="8.7"/>
<rect x="638.6" y="109.6" width="8.7" height="8.7"/>
<rect x="645.2" y="113.1" width="8.7" height="8.7"/>
<rect x="651.6" y="114.2" width="8.7" height="8.7"/>
<rect x="658.9" y="114.2" width="8.7" height="8.7"/>
<rect x="664.9" y="117.4" width="8.7" height="8.7"/>
<rect x="670.4" y="116.7" width="8.7" height="8.7"/>
</g>
<g fill="none" stroke-width="1.55">
<path d="M388.6,107.60 389.4,107.59 390.2,107.57 391.0,107.53 391.8,107.48 392.6,107.41 393.4,107.32 394.2,107.22 395.0,107.10 395.8,106.97 396.6,106.83 397.4,106.67 398.2,106.49 399.0,106.30 399.8,106.10 400.6,105.89 401.4,105.66 402.2,105.41 403.0,105.16 403.8,104.89 404.7,104.61 405.5,104.31 406.3,104.01 407.1,103.69 407.9,103.36 408.7,103.03 409.5,102.68 410.3,102.32 411.1,101.96 411.9,101.58 412.7,101.20 413.5,100.81 414.3,100.41 415.1,100.01 415.9,99.59 416.7,99.18 417.5,98.76 418.3,98.33 419.1,97.90 419.9,97.46 420.7,97.02 421.5,96.58 422.3,96.14 423.1,95.69 423.9,95.25 424.7,94.80 425.5,94.35 426.3,93.91 427.1,93.46 427.9,93.02 428.7,92.58 429.5,92.14 430.3,91.70 431.1,91.27 431.9,90.84 432.7,90.42 433.5,90.01 434.3,89.59 435.2,89.19 436.0,88.79 436.8,88.40 437.6,88.02 438.4,87.64 439.2,87.28 440.0,86.92 440.8,86.57 441.6,86.24 442.4,85.91 443.2,85.59 444.0,85.29 444.8,84.99 445.6,84.71 446.4,84.44 447.2,84.19 448.0,83.94 448.8,83.71 449.6,83.50 450.4,83.30 451.2,83.11 452.0,82.93 452.8,82.77 453.6,82.63 454.4,82.50 455.2,82.38 456.0,82.28 456.8,82.19 457.6,82.12 458.4,82.07 459.2,82.03 460.0,82.01 460.8,82.00 461.6,82.01 462.4,82.03 463.2,82.07 464.0,82.12 464.8,82.19 465.6,82.28 466.5,82.38 467.3,82.50 468.1,82.63 468.9,82.77 469.7,82.93 470.5,83.11 471.3,83.30 472.1,83.50 472.9,83.71 473.7,83.94 474.5,84.19 475.3,84.44 476.1,84.71 476.9,84.99 477.7,85.29 478.5,85.59 479.3,85.91 480.1,86.24 480.9,86.57 481.7,86.92 482.5,87.28 483.3,87.64 484.1,88.02 484.9,88.40 485.7,88.79 486.5,89.19 487.3,89.59 488.1,90.01 488.9,90.42 489.7,90.84 490.5,91.27 491.3,91.70 492.1,92.14 492.9,92.58 493.7,93.02 494.5,93.46 495.3,93.91 496.1,94.35 497.0,94.80 497.8,95.25 498.6,95.69 499.4,96.14 500.2,96.58 501.0,97.02 501.8,97.46 502.6,97.90 503.4,98.33 504.2,98.76 505.0,99.18 505.8,99.59 506.6,100.01 507.4,100.41 508.2,100.81 509.0,101.20 509.8,101.58 510.6,101.96 511.4,102.32 512.2,102.68 513.0,103.03 513.8,103.36 514.6,103.69 515.4,104.01 516.2,104.31 517.0,104.61 517.8,104.89 518.6,105.16 519.4,105.41 520.2,105.66 521.0,105.89 521.8,106.10 522.6,106.30 523.4,106.49 524.2,106.67 525.0,106.83 525.8,106.97 526.6,107.10 527.4,107.22 528.3,107.32 529.1,107.41 529.9,107.48 530.7,107.53 531.5,107.57 532.3,107.59 533.1,107.60 533.9,107.59 534.7,107.57 535.5,107.53 536.3,107.48 537.1,107.41 537.9,107.32 538.7,107.22 539.5,107.10 540.3,106.97 541.1,106.83 541.9,106.67 542.7,106.49 543.5,106.30 544.3,106.10 545.1,105.89 545.9,105.66 546.7,105.41 547.5,105.16 548.3,104.89 549.1,104.61 549.9,104.31 550.7,104.01 551.5,103.69 552.3,103.36 553.1,103.03 553.9,102.68 554.7,102.32 555.5,101.96 556.3,101.58 557.1,101.20 557.9,100.81 558.8,100.41 559.6,100.01 560.4,99.59 561.2,99.18 562.0,98.76 562.8,98.33 563.6,97.90 564.4,97.46 565.2,97.02 566.0,96.58 566.8,96.14 567.6,95.69 568.4,95.25 569.2,94.80 570.0,94.35 570.8,93.91 571.6,93.46 572.4,93.02 573.2,92.58 574.0,92.14 574.8,91.70 575.6,91.27 576.4,90.84 577.2,90.42 578.0,90.01 578.8,89.59 579.6,89.19 580.4,88.79 581.2,88.40 582.0,88.02 582.8,87.64 583.6,87.28 584.4,86.92 585.2,86.57 586.0,86.24 586.8,85.91 587.6,85.59 588.4,85.29 589.2,84.99 590.1,84.71 590.9,84.44 591.7,84.19 592.5,83.94 593.3,83.71 594.1,83.50 594.9,83.30 595.7,83.11 596.5,82.93 597.3,82.77 598.1,82.63 598.9,82.50 599.7,82.38 600.5,82.28 601.3,82.19 602.1,82.12 602.9,82.07 603.7,82.03 604.5,82.01 605.3,82.00 606.1,82.01 606.9,82.03 607.7,82.07 608.5,82.12 609.3,82.19 610.1,82.28 610.9,82.38 611.7,82.50 612.5,82.63 613.3,82.77 614.1,82.93 614.9,83.11 615.7,83.30 616.5,83.50 617.3,83.71 618.1,83.94 618.9,84.19 619.7,84.44 620.6,84.71 621.4,84.99 622.2,85.29 623.0,85.59 623.8,85.91 624.6,86.24 625.4,86.57 626.2,86.92 627.0,87.28 627.8,87.64 628.6,88.02 629.4,88.40 630.2,88.79 631.0,89.19 631.8,89.59 632.6,90.01 633.4,90.42 634.2,90.84 635.0,91.27 635.8,91.70 636.6,92.14 637.4,92.58 638.2,93.02 639.0,93.46 639.8,93.91 640.6,94.35 641.4,94.80 642.2,95.25 643.0,95.69 643.8,96.14 644.6,96.58 645.4,97.02 646.2,97.46 647.0,97.90 647.8,98.33 648.6,98.76 649.4,99.18 650.2,99.59 651.1,100.01 651.9,100.41 652.7,100.81 653.5,101.20 654.3,101.58 655.1,101.96 655.9,102.32 656.7,102.68 657.5,103.03 658.3,103.36 659.1,103.69 659.9,104.01 660.7,104.31 661.5,104.61 662.3,104.89 663.1,105.16 663.9,105.41 664.7,105.66 665.5,105.89 666.3,106.10 667.1,106.30 667.9,106.49 668.7,106.67 669.5,106.83 670.3,106.97 671.1,107.10 671.9,107.22 672.7,107.32 673.5,107.41 674.3,107.48 675.1,107.53 675.9,107.57 676.7,107.59 677.5,107.60" stroke="#0000ff"/>
<path d="M388.6,122.30 389.4,122.29 390.2,122.27 391.0,122.23 391.8,122.18 392.6,122.11 393.4,122.03 394.2,121.93 395.0,121.82 395.8,121.69 396.6,121.55 397.4,121.39 398.2,121.22 399.0,121.03 399.8,120.84 400.6,120.63 401.4,120.40 402.2,120.16 403.0,119.91 403.8,119.65 404.7,119.38 405.5,119.09 406.3,118.79 407.1,118.48 407.9,118.16 408.7,117.83 409.5,117.50 410.3,117.15 411.1,116.79 411.9,116.42 412.7,116.05 413.5,115.67 414.3,115.28 415.1,114.88 415.9,114.48 416.7,114.08 417.5,113.66 418.3,113.25 419.1,112.82 419.9,112.40 420.7,111.97 421.5,111.54 422.3,111.11 423.1,110.67 423.9,110.24 424.7,109.80 425.5,109.36 426.3,108.93 427.1,108.49 427.9,108.06 428.7,107.63 429.5,107.20 430.3,106.78 431.1,106.35 431.9,105.94 432.7,105.52 433.5,105.12 434.3,104.72 435.2,104.32 436.0,103.93 436.8,103.55 437.6,103.18 438.4,102.81 439.2,102.45 440.0,102.10 440.8,101.77 441.6,101.44 442.4,101.12 443.2,100.81 444.0,100.51 444.8,100.22 445.6,99.95 446.4,99.69 447.2,99.44 448.0,99.20 448.8,98.97 449.6,98.76 450.4,98.57 451.2,98.38 452.0,98.21 452.8,98.05 453.6,97.91 454.4,97.78 455.2,97.67 456.0,97.57 456.8,97.49 457.6,97.42 458.4,97.37 459.2,97.33 460.0,97.31 460.8,97.30 461.6,97.31 462.4,97.33 463.2,97.37 464.0,97.42 464.8,97.49 465.6,97.57 466.5,97.67 467.3,97.78 468.1,97.91 468.9,98.05 469.7,98.21 470.5,98.38 471.3,98.57 472.1,98.76 472.9,98.97 473.7,99.20 474.5,99.44 475.3,99.69 476.1,99.95 476.9,100.22 477.7,100.51 478.5,100.81 479.3,101.12 480.1,101.44 480.9,101.77 481.7,102.10 482.5,102.45 483.3,102.81 484.1,103.18 484.9,103.55 485.7,103.93 486.5,104.32 487.3,104.72 488.1,105.12 488.9,105.52 489.7,105.94 490.5,106.35 491.3,106.78 492.1,107.20 492.9,107.63 493.7,108.06 494.5,108.49 495.3,108.93 496.1,109.36 497.0,109.80 497.8,110.24 498.6,110.67 499.4,111.11 500.2,111.54 501.0,111.97 501.8,112.40 502.6,112.82 503.4,113.25 504.2,113.66 505.0,114.08 505.8,114.48 506.6,114.88 507.4,115.28 508.2,115.67 509.0,116.05 509.8,116.42 510.6,116.79 511.4,117.15 512.2,117.50 513.0,117.83 513.8,118.16 514.6,118.48 515.4,118.79 516.2,119.09 517.0,119.38 517.8,119.65 518.6,119.91 519.4,120.16 520.2,120.40 521.0,120.63 521.8,120.84 522.6,121.03 523.4,121.22 524.2,121.39 525.0,121.55 525.8,121.69 526.6,121.82 527.4,121.93 528.3,122.03 529.1,122.11 529.9,122.18 530.7,122.23 531.5,122.27 532.3,122.29 533.1,122.30 533.9,122.29 534.7,122.27 535.5,122.23 536.3,122.18 537.1,122.11 537.9,122.03 538.7,121.93 539.5,121.82 540.3,121.69 541.1,121.55 541.9,121.39 542.7,121.22 543.5,121.03 544.3,120.84 545.1,120.63 545.9,120.40 546.7,120.16 547.5,119.91 548.3,119.65 549.1,119.38 549.9,119.09 550.7,118.79 551.5,118.48 552.3,118.16 553.1,117.83 553.9,117.50 554.7,117.15 555.5,116.79 556.3,116.42 557.1,116.05 557.9,115.67 558.8,115.28 559.6,114.88 560.4,114.48 561.2,114.08 562.0,113.66 562.8,113.25 563.6,112.82 564.4,112.40 565.2,111.97 566.0,111.54 566.8,111.11 567.6,110.67 568.4,110.24 569.2,109.80 570.0,109.36 570.8,108.93 571.6,108.49 572.4,108.06 573.2,107.63 574.0,107.20 574.8,106.78 575.6,106.35 576.4,105.94 577.2,105.52 578.0,105.12 578.8,104.72 579.6,104.32 580.4,103.93 581.2,103.55 582.0,103.18 582.8,102.81 583.6,102.45 584.4,102.10 585.2,101.77 586.0,101.44 586.8,101.12 587.6,100.81 588.4,100.51 589.2,100.22 590.1,99.95 590.9,99.69 591.7,99.44 592.5,99.20 593.3,98.97 594.1,98.76 594.9,98.57 595.7,98.38 596.5,98.21 597.3,98.05 598.1,97.91 598.9,97.78 599.7,97.67 600.5,97.57 601.3,97.49 602.1,97.42 602.9,97.37 603.7,97.33 604.5,97.31 605.3,97.30 606.1,97.31 606.9,97.33 607.7,97.37 608.5,97.42 609.3,97.49 610.1,97.57 610.9,97.67 611.7,97.78 612.5,97.91 613.3,98.05 614.1,98.21 614.9,98.38 615.7,98.57 616.5,98.76 617.3,98.97 618.1,99.20 618.9,99.44 619.7,99.69 620.6,99.95 621.4,100.22 622.2,100.51 623.0,100.81 623.8,101.12 624.6,101.44 625.4,101.77 626.2,102.10 627.0,102.45 627.8,102.81 628.6,103.18 629.4,103.55 630.2,103.93 631.0,104.32 631.8,104.72 632.6,105.12 633.4,105.52 634.2,105.94 635.0,106.35 635.8,106.78 636.6,107.20 637.4,107.63 638.2,108.06 639.0,108.49 639.8,108.93 640.6,109.36 641.4,109.80 642.2,110.24 643.0,110.67 643.8,111.11 644.6,111.54 645.4,111.97 646.2,112.40 647.0,112.82 647.8,113.25 648.6,113.66 649.4,114.08 650.2,114.48 651.1,114.88 651.9,115.28 652.7,115.67 653.5,116.05 654.3,116.42 655.1,116.79 655.9,117.15 656.7,117.50 657.5,117.83 658.3,118.16 659.1,118.48 659.9,118.79 660.7,119.09 661.5,119.38 662.3,119.65 663.1,119.91 663.9,120.16 664.7,120.40 665.5,120.63 666.3,120.84 667.1,121.03 667.9,121.22 668.7,121.39 669.5,121.55 670.3,121.69 671.1,121.82 671.9,121.93 672.7,122.03 673.5,122.11 674.3,122.18 675.1,122.23 675.9,122.27 676.7,122.29 677.5,122.30" stroke="#ff0000"/>
</g>
<g fill="#f7e0d9" fill-opacity="0.8" stroke="#222" stroke-width="1">
<rect x="386.3" y="196.0" width="8.7" height="8.7"/>
<rect x="389.1" y="204.3" width="8.7" height="8.7"/>
<rect x="395.6" y="217.3" width="8.7" height="8.7"/>
<rect x="402.1" y="225.8" width="8.7" height="8.7"/>
<rect x="407.8" y="232.8" width="8.7" height="8.7"/>
<rect x="415.2" y="234.2" width="8.7" height="8.7"/>
<rect x="420.4" y="239.3" width="8.7" height="8.7"/>
<rect x="426.6" y="236.1" width="8.7" height="8.7"/>
<rect x="431.6" y="236.3" width="8.7" height="8.7"/>
<rect x="440.2" y="232.8" width="8.7" height="8.7"/>
<rect x="447.2" y="223.8" width="8.7" height="8.7"/>
<rect x="453.3" y="213.6" width="8.7" height="8.7"/>
<rect x="460.0" y="199.0" width="8.7" height="8.7"/>
<rect x="467.1" y="195.8" width="8.7" height="8.7"/>
<rect x="472.6" y="186.7" width="8.7" height="8.7"/>
<rect x="479.0" y="179.0" width="8.7" height="8.7"/>
<rect x="485.4" y="182.5" width="8.7" height="8.7"/>
<rect x="491.9" y="180.8" width="8.7" height="8.7"/>
<rect x="498.6" y="177.8" width="8.7" height="8.7"/>
<rect x="504.0" y="182.5" width="8.7" height="8.7"/>
<rect x="511.5" y="183.2" width="8.7" height="8.7"/>
<rect x="516.5" y="199.6" width="8.7" height="8.7"/>
<rect x="523.6" y="202.7" width="8.7" height="8.7"/>
<rect x="530.5" y="206.6" width="8.7" height="8.7"/>
<rect x="536.8" y="214.1" width="8.7" height="8.7"/>
<rect x="543.4" y="217.2" width="8.7" height="8.7"/>
<rect x="548.9" y="224.2" width="8.7" height="8.7"/>
<rect x="554.9" y="232.2" width="8.7" height="8.7"/>
<rect x="563.1" y="231.5" width="8.7" height="8.7"/>
<rect x="568.1" y="234.6" width="8.7" height="8.7"/>
<rect x="575.5" y="235.3" width="8.7" height="8.7"/>
<rect x="581.0" y="226.8" width="8.7" height="8.7"/>
<rect x="588.8" y="224.2" width="8.7" height="8.7"/>
<rect x="594.1" y="211.7" width="8.7" height="8.7"/>
<rect x="601.2" y="205.5" width="8.7" height="8.7"/>
<rect x="608.6" y="200.8" width="8.7" height="8.7"/>
<rect x="614.9" y="193.8" width="8.7" height="8.7"/>
<rect x="620.2" y="184.5" width="8.7" height="8.7"/>
<rect x="626.9" y="175.2" width="8.7" height="8.7"/>
<rect x="632.4" y="172.1" width="8.7" height="8.7"/>
<rect x="640.0" y="160.6" width="8.7" height="8.7"/>
<rect x="646.2" y="171.2" width="8.7" height="8.7"/>
<rect x="653.1" y="174.1" width="8.7" height="8.7"/>
<rect x="658.2" y="183.5" width="8.7" height="8.7"/>
<rect x="666.2" y="182.8" width="8.7" height="8.7"/>
</g>
<path d="M388.6,210.00 389.4,211.05 390.2,212.09 391.0,213.13 391.8,214.15 392.6,215.17 393.4,216.18 394.2,217.18 395.0,218.16 395.8,219.13 396.6,220.08 397.4,221.02 398.2,221.94 399.0,222.85 399.8,223.73 400.6,224.60 401.4,225.45 402.2,226.27 403.0,227.07 403.8,227.85 404.7,228.60 405.5,229.33 406.3,230.04 407.1,230.72 407.9,231.37 408.7,232.00 409.5,232.60 410.3,233.17 411.1,233.72 411.9,234.23 412.7,234.72 413.5,235.17 414.3,235.60 415.1,236.00 415.9,236.36 416.7,236.70 417.5,237.00 418.3,237.27 419.1,237.51 419.9,237.72 420.7,237.90 421.5,238.04 422.3,238.15 423.1,238.24 423.9,238.28 424.7,238.30 425.5,238.28 426.3,238.24 427.1,238.15 427.9,238.04 428.7,237.90 429.5,237.72 430.3,237.51 431.1,237.27 431.9,237.00 432.7,236.70 433.5,236.36 434.3,236.00 435.2,235.60 436.0,235.17 436.8,234.72 437.6,234.23 438.4,233.72 439.2,233.17 440.0,232.60 440.8,232.00 441.6,231.37 442.4,230.72 443.2,230.04 444.0,229.33 444.8,228.60 445.6,227.85 446.4,227.07 447.2,226.27 448.0,225.45 448.8,224.60 449.6,223.73 450.4,222.85 451.2,221.94 452.0,221.02 452.8,220.08 453.6,219.13 454.4,218.16 455.2,217.18 456.0,216.18 456.8,215.17 457.6,214.15 458.4,213.13 459.2,212.09 460.0,211.05 460.8,210.00 461.6,208.95 462.4,207.89 463.2,206.83 464.0,205.78 464.8,204.72 465.6,203.66 466.5,202.61 467.3,201.57 468.1,200.53 468.9,199.49 469.7,198.47 470.5,197.46 471.3,196.46 472.1,195.47 472.9,194.50 473.7,193.54 474.5,192.61 475.3,191.69 476.1,190.79 476.9,189.91 477.7,189.05 478.5,188.22 479.3,187.42 480.1,186.64 480.9,185.89 481.7,185.16 482.5,184.47 483.3,183.81 484.1,183.18 484.9,182.58 485.7,182.02 486.5,181.49 487.3,181.00 488.1,180.54 488.9,180.13 489.7,179.75 490.5,179.40 491.3,179.10 492.1,178.84 492.9,178.61 493.7,178.43 494.5,178.28 495.3,178.18 496.1,178.12 497.0,178.10 497.8,178.12 498.6,178.18 499.4,178.28 500.2,178.43 501.0,178.61 501.8,178.84 502.6,179.10 503.4,179.40 504.2,179.75 505.0,180.13 505.8,180.54 506.6,181.00 507.4,181.49 508.2,182.02 509.0,182.58 509.8,183.18 510.6,183.81 511.4,184.47 512.2,185.16 513.0,185.89 513.8,186.64 514.6,187.42 515.4,188.22 516.2,189.05 517.0,189.91 517.8,190.79 518.6,191.69 519.4,192.61 520.2,193.54 521.0,194.50 521.8,195.47 522.6,196.46 523.4,197.46 524.2,198.47 525.0,199.49 525.8,200.53 526.6,201.57 527.4,202.61 528.3,203.66 529.1,204.72 529.9,205.78 530.7,206.83 531.5,207.89 532.3,208.95 533.1,210.00 533.9,211.05 534.7,212.09 535.5,213.13 536.3,214.15 537.1,215.17 537.9,216.18 538.7,217.18 539.5,218.16 540.3,219.13 541.1,220.08 541.9,221.02 542.7,221.94 543.5,222.85 544.3,223.73 545.1,224.60 545.9,225.45 546.7,226.27 547.5,227.07 548.3,227.85 549.1,228.60 549.9,229.33 550.7,230.04 551.5,230.72 552.3,231.37 553.1,232.00 553.9,232.60 554.7,233.17 555.5,233.72 556.3,234.23 557.1,234.72 557.9,235.17 558.8,235.60 559.6,236.00 560.4,236.36 561.2,236.70 562.0,237.00 562.8,237.27 563.6,237.51 564.4,237.72 565.2,237.90 566.0,238.04 566.8,238.15 567.6,238.24 568.4,238.28 569.2,238.30 570.0,238.28 570.8,238.24 571.6,238.15 572.4,238.04 573.2,237.90 574.0,237.72 574.8,237.51 575.6,237.27 576.4,237.00 577.2,236.70 578.0,236.36 578.8,236.00 579.6,235.60 580.4,235.17 581.2,234.72 582.0,234.23 582.8,233.72 583.6,233.17 584.4,232.60 585.2,232.00 586.0,231.37 586.8,230.72 587.6,230.04 588.4,229.33 589.2,228.60 590.1,227.85 590.9,227.07 591.7,226.27 592.5,225.45 593.3,224.60 594.1,223.73 594.9,222.85 595.7,221.94 596.5,221.02 597.3,220.08 598.1,219.13 598.9,218.16 599.7,217.18 600.5,216.18 601.3,215.17 602.1,214.15 602.9,213.13 603.7,212.09 604.5,211.05 605.3,210.00 606.1,208.95 606.9,207.89 607.7,206.83 608.5,205.78 609.3,204.72 610.1,203.66 610.9,202.61 611.7,201.57 612.5,200.53 613.3,199.49 614.1,198.47 614.9,197.46 615.7,196.46 616.5,195.47 617.3,194.50 618.1,193.54 618.9,192.61 619.7,191.69 620.6,190.79 621.4,189.91 622.2,189.05 623.0,188.22 623.8,187.42 624.6,186.64 625.4,185.89 626.2,185.16 627.0,184.47 627.8,183.81 628.6,183.18 629.4,182.58 630.2,182.02 631.0,181.49 631.8,181.00 632.6,180.54 633.4,180.13 634.2,179.75 635.0,179.40 635.8,179.10 636.6,178.84 637.4,178.61 638.2,178.43 639.0,178.28 639.8,178.18 640.6,178.12 641.4,178.10 642.2,178.12 643.0,178.18 643.8,178.28 644.6,178.43 645.4,178.61 646.2,178.84 647.0,179.10 647.8,179.40 648.6,179.75 649.4,180.13 650.2,180.54 651.1,181.00 651.9,181.49 652.7,182.02 653.5,182.58 654.3,183.18 655.1,183.81 655.9,184.47 656.7,185.16 657.5,185.89 658.3,186.64 659.1,187.42 659.9,188.22 660.7,189.05 661.5,189.91 662.3,190.79 663.1,191.69 663.9,192.61 664.7,193.54 665.5,194.50 666.3,195.47 667.1,196.46 667.9,197.46 668.7,198.47 669.5,199.49 670.3,200.53 671.1,201.57 671.9,202.61 672.7,203.66 673.5,204.72 674.3,205.78 675.1,206.83 675.9,207.89 676.7,208.95 677.5,210.00" stroke="#ff0000" stroke-width="1.55" fill="none"/>
<g fill="#60f860" fill-opacity="0.92" stroke="#1a2a1a" stroke-width="1">
<circle cx="389.9" cy="192.0" r="4.65"/>
<circle cx="393.0" cy="184.3" r="4.65"/>
<circle cx="400.3" cy="178.0" r="4.65"/>
<circle cx="407.0" cy="166.4" r="4.65"/>
<circle cx="412.5" cy="164.8" r="4.65"/>
<circle cx="419.5" cy="160.9" r="4.65"/>
<circle cx="424.9" cy="170.2" r="4.65"/>
<circle cx="432.0" cy="165.6" r="4.65"/>
<circle cx="438.4" cy="175.5" r="4.65"/>
<circle cx="444.5" cy="181.5" r="4.65"/>
<circle cx="451.5" cy="180.2" r="4.65"/>
<circle cx="457.6" cy="191.2" r="4.65"/>
<circle cx="464.4" cy="199.0" r="4.65"/>
<circle cx="470.8" cy="206.0" r="4.65"/>
<circle cx="477.6" cy="218.5" r="4.65"/>
<circle cx="484.2" cy="221.3" r="4.65"/>
<circle cx="490.7" cy="231.1" r="4.65"/>
<circle cx="496.2" cy="233.3" r="4.65"/>
<circle cx="502.8" cy="234.4" r="4.65"/>
<circle cx="509.0" cy="228.8" r="4.65"/>
<circle cx="515.3" cy="222.8" r="4.65"/>
<circle cx="522.1" cy="213.7" r="4.65"/>
<circle cx="528.8" cy="202.3" r="4.65"/>
<circle cx="535.4" cy="190.8" r="4.65"/>
<circle cx="541.6" cy="183.8" r="4.65"/>
<circle cx="547.8" cy="173.6" r="4.65"/>
<circle cx="554.2" cy="165.0" r="4.65"/>
<circle cx="559.6" cy="167.7" r="4.65"/>
<circle cx="566.7" cy="167.1" r="4.65"/>
<circle cx="573.7" cy="163.2" r="4.65"/>
<circle cx="579.9" cy="171.8" r="4.65"/>
<circle cx="586.2" cy="177.3" r="4.65"/>
<circle cx="591.8" cy="188.1" r="4.65"/>
<circle cx="598.0" cy="193.5" r="4.65"/>
<circle cx="605.6" cy="201.6" r="4.65"/>
<circle cx="611.8" cy="210.5" r="4.65"/>
<circle cx="618.8" cy="226.9" r="4.65"/>
<circle cx="624.3" cy="232.4" r="4.65"/>
<circle cx="630.5" cy="236.3" r="4.65"/>
<circle cx="636.8" cy="237.5" r="4.65"/>
<circle cx="644.0" cy="235.0" r="4.65"/>
<circle cx="650.2" cy="226.6" r="4.65"/>
<circle cx="657.2" cy="223.8" r="4.65"/>
<circle cx="663.2" cy="207.4" r="4.65"/>
<circle cx="669.5" cy="204.4" r="4.65"/>
<circle cx="675.2" cy="198.8" r="4.65"/>
</g>
<path d="M388.6,200.00 389.4,198.82 390.2,197.63 391.0,196.45 391.8,195.26 392.6,194.07 393.4,192.89 394.2,191.70 395.0,190.53 395.8,189.36 396.6,188.19 397.4,187.04 398.2,185.90 399.0,184.77 399.8,183.66 400.6,182.56 401.4,181.48 402.2,180.42 403.0,179.38 403.8,178.37 404.7,177.38 405.5,176.41 406.3,175.47 407.1,174.56 407.9,173.68 408.7,172.83 409.5,172.01 410.3,171.22 411.1,170.47 411.9,169.76 412.7,169.08 413.5,168.45 414.3,167.85 415.1,167.29 415.9,166.77 416.7,166.30 417.5,165.87 418.3,165.48 419.1,165.13 419.9,164.83 420.7,164.58 421.5,164.37 422.3,164.21 423.1,164.09 423.9,164.02 424.7,164.00 425.5,164.02 426.3,164.09 427.1,164.21 427.9,164.37 428.7,164.58 429.5,164.83 430.3,165.13 431.1,165.48 431.9,165.87 432.7,166.30 433.5,166.77 434.3,167.29 435.2,167.85 436.0,168.45 436.8,169.08 437.6,169.76 438.4,170.47 439.2,171.22 440.0,172.01 440.8,172.83 441.6,173.68 442.4,174.56 443.2,175.47 444.0,176.41 444.8,177.38 445.6,178.37 446.4,179.38 447.2,180.42 448.0,181.48 448.8,182.56 449.6,183.66 450.4,184.77 451.2,185.90 452.0,187.04 452.8,188.19 453.6,189.36 454.4,190.53 455.2,191.70 456.0,192.89 456.8,194.07 457.6,195.26 458.4,196.45 459.2,197.63 460.0,198.82 460.8,200.00 461.6,201.18 462.4,202.34 463.2,203.50 464.0,204.65 464.8,205.79 465.6,206.92 466.5,208.03 467.3,209.13 468.1,210.21 468.9,211.28 469.7,212.33 470.5,213.36 471.3,214.36 472.1,215.35 472.9,216.31 473.7,217.25 474.5,218.17 475.3,219.06 476.1,219.93 476.9,220.76 477.7,221.58 478.5,222.36 479.3,223.11 480.1,223.84 480.9,224.53 481.7,225.20 482.5,225.83 483.3,226.43 484.1,227.00 484.9,227.54 485.7,228.05 486.5,228.52 487.3,228.95 488.1,229.36 488.9,229.73 489.7,230.06 490.5,230.36 491.3,230.63 492.1,230.86 492.9,231.06 493.7,231.22 494.5,231.34 495.3,231.43 496.1,231.48 497.0,231.50 497.8,231.48 498.6,231.43 499.4,231.34 500.2,231.22 501.0,231.06 501.8,230.86 502.6,230.63 503.4,230.36 504.2,230.06 505.0,229.73 505.8,229.36 506.6,228.95 507.4,228.52 508.2,228.05 509.0,227.54 509.8,227.00 510.6,226.43 511.4,225.83 512.2,225.20 513.0,224.53 513.8,223.84 514.6,223.11 515.4,222.36 516.2,221.58 517.0,220.76 517.8,219.93 518.6,219.06 519.4,218.17 520.2,217.25 521.0,216.31 521.8,215.35 522.6,214.36 523.4,213.36 524.2,212.33 525.0,211.28 525.8,210.21 526.6,209.13 527.4,208.03 528.3,206.92 529.1,205.79 529.9,204.65 530.7,203.50 531.5,202.34 532.3,201.18 533.1,200.00 533.9,198.82 534.7,197.63 535.5,196.45 536.3,195.26 537.1,194.07 537.9,192.89 538.7,191.70 539.5,190.53 540.3,189.36 541.1,188.19 541.9,187.04 542.7,185.90 543.5,184.77 544.3,183.66 545.1,182.56 545.9,181.48 546.7,180.42 547.5,179.38 548.3,178.37 549.1,177.38 549.9,176.41 550.7,175.47 551.5,174.56 552.3,173.68 553.1,172.83 553.9,172.01 554.7,171.22 555.5,170.47 556.3,169.76 557.1,169.08 557.9,168.45 558.8,167.85 559.6,167.29 560.4,166.77 561.2,166.30 562.0,165.87 562.8,165.48 563.6,165.13 564.4,164.83 565.2,164.58 566.0,164.37 566.8,164.21 567.6,164.09 568.4,164.02 569.2,164.00 570.0,164.02 570.8,164.09 571.6,164.21 572.4,164.37 573.2,164.58 574.0,164.83 574.8,165.13 575.6,165.48 576.4,165.87 577.2,166.30 578.0,166.77 578.8,167.29 579.6,167.85 580.4,168.45 581.2,169.08 582.0,169.76 582.8,170.47 583.6,171.22 584.4,172.01 585.2,172.83 586.0,173.68 586.8,174.56 587.6,175.47 588.4,176.41 589.2,177.38 590.1,178.37 590.9,179.38 591.7,180.42 592.5,181.48 593.3,182.56 594.1,183.66 594.9,184.77 595.7,185.90 596.5,187.04 597.3,188.19 598.1,189.36 598.9,190.53 599.7,191.70 600.5,192.89 601.3,194.07 602.1,195.26 602.9,196.45 603.7,197.63 604.5,198.82 605.3,200.00 606.1,201.18 606.9,202.34 607.7,203.50 608.5,204.65 609.3,205.79 610.1,206.92 610.9,208.03 611.7,209.13 612.5,210.21 613.3,211.28 614.1,212.33 614.9,213.36 615.7,214.36 616.5,215.35 617.3,216.31 618.1,217.25 618.9,218.17 619.7,219.06 620.6,219.93 621.4,220.76 622.2,221.58 623.0,222.36 623.8,223.11 624.6,223.84 625.4,224.53 626.2,225.20 627.0,225.83 627.8,226.43 628.6,227.00 629.4,227.54 630.2,228.05 631.0,228.52 631.8,228.95 632.6,229.36 633.4,229.73 634.2,230.06 635.0,230.36 635.8,230.63 636.6,230.86 637.4,231.06 638.2,231.22 639.0,231.34 639.8,231.43 640.6,231.48 641.4,231.50 642.2,231.48 643.0,231.43 643.8,231.34 644.6,231.22 645.4,231.06 646.2,230.86 647.0,230.63 647.8,230.36 648.6,230.06 649.4,229.73 650.2,229.36 651.1,228.95 651.9,228.52 652.7,228.05 653.5,227.54 654.3,227.00 655.1,226.43 655.9,225.83 656.7,225.20 657.5,224.53 658.3,223.84 659.1,223.11 659.9,222.36 660.7,221.58 661.5,220.76 662.3,219.93 663.1,219.06 663.9,218.17 664.7,217.25 665.5,216.31 666.3,215.35 667.1,214.36 667.9,213.36 668.7,212.33 669.5,211.28 670.3,210.21 671.1,209.13 671.9,208.03 672.7,206.92 673.5,205.79 674.3,204.65 675.1,203.50 675.9,202.34 676.7,201.18 677.5,200.00" stroke="#008c00" stroke-width="1.55" fill="none"/>
<g fill="#d2e5f3" fill-opacity="0.8" stroke="#222" stroke-width="1">
<path d="M388.7,257.7L395.0,264.0L388.7,270.3L382.4,264.0Z"/>
<path d="M393.2,251.8L399.5,258.1L393.2,264.4L386.9,258.1Z"/>
<path d="M400.4,257.7L406.7,264.0L400.4,270.3L394.1,264.0Z"/>
<path d="M407.0,251.1L413.3,257.4L407.0,263.7L400.7,257.4Z"/>
<path d="M412.9,257.7L419.2,264.0L412.9,270.3L406.6,264.0Z"/>
<path d="M419.4,255.7L425.7,262.0L419.4,268.3L413.1,262.0Z"/>
<path d="M426.0,259.7L432.3,266.0L426.0,272.3L419.7,266.0Z"/>
<path d="M431.2,265.5L437.5,271.8L431.2,278.1L424.9,271.8Z"/>
<path d="M436.4,266.2L442.7,272.5L436.4,278.8L430.1,272.5Z"/>
<path d="M439.2,264.4L445.5,270.7L439.2,277.0L432.9,270.7Z"/>
<path d="M445.0,267.9L451.3,274.2L445.0,280.5L438.7,274.2Z"/>
<path d="M451.3,270.8L457.6,277.1L451.3,283.4L445.0,277.1Z"/>
<path d="M457.6,269.3L463.9,275.6L457.6,281.9L451.3,275.6Z"/>
<path d="M463.4,269.7L469.7,276.0L463.4,282.3L457.1,276.0Z"/>
<path d="M469.7,265.0L476.0,271.3L469.7,277.6L463.4,271.3Z"/>
<path d="M477.2,262.1L483.5,268.4L477.2,274.7L470.9,268.4Z"/>
<path d="M483.8,261.0L490.1,267.3L483.8,273.6L477.5,267.3Z"/>
<path d="M490.2,260.4L496.5,266.7L490.2,273.0L483.9,266.7Z"/>
<path d="M497.1,261.6L503.4,267.9L497.1,274.2L490.8,267.9Z"/>
<path d="M502.8,266.7L509.1,273.0L502.8,279.3L496.5,273.0Z"/>
<path d="M509.7,268.5L516.0,274.8L509.7,281.1L503.4,274.8Z"/>
<path d="M516.1,269.0L522.4,275.3L516.1,281.6L509.8,275.3Z"/>
<path d="M522.1,270.8L528.4,277.1L522.1,283.4L515.8,277.1Z"/>
<path d="M528.4,268.5L534.7,274.8L528.4,281.1L522.1,274.8Z"/>
<path d="M534.8,266.7L541.1,273.0L534.8,279.3L528.5,273.0Z"/>
<path d="M541.1,265.6L547.4,271.9L541.1,278.2L534.8,271.9Z"/>
<path d="M547.4,262.1L553.7,268.4L547.4,274.7L541.1,268.4Z"/>
<path d="M554.4,263.1L560.7,269.4L554.4,275.7L548.1,269.4Z"/>
<path d="M560.2,259.5L566.5,265.8L560.2,272.1L553.9,265.8Z"/>
<path d="M567.9,257.5L574.2,263.8L567.9,270.1L561.6,263.8Z"/>
<path d="M574.2,259.8L580.5,266.1L574.2,272.4L567.9,266.1Z"/>
<path d="M580.5,261.0L586.8,267.3L580.5,273.6L574.2,267.3Z"/>
<path d="M586.9,265.0L593.2,271.3L586.9,277.6L580.6,271.3Z"/>
<path d="M592.6,268.5L598.9,274.8L592.6,281.1L586.3,274.8Z"/>
<path d="M599.1,271.9L605.4,278.2L599.1,284.5L592.8,278.2Z"/>
<path d="M605.7,268.8L612.0,275.1L605.7,281.4L599.4,275.1Z"/>
<path d="M612.9,272.1L619.2,278.4L612.9,284.7L606.6,278.4Z"/>
<path d="M618.8,271.4L625.1,277.7L618.8,284.0L612.5,277.7Z"/>
<path d="M625.3,267.5L631.6,273.8L625.3,280.1L619.0,273.8Z"/>
<path d="M631.9,268.2L638.2,274.5L631.9,280.8L625.6,274.5Z"/>
<path d="M637.5,268.5L643.8,274.8L637.5,281.1L631.2,274.8Z"/>
<path d="M643.9,266.7L650.2,273.0L643.9,279.3L637.6,273.0Z"/>
<path d="M650.5,266.0L656.8,272.3L650.5,278.6L644.2,272.3Z"/>
<path d="M656.4,261.6L662.7,267.9L656.4,274.2L650.1,267.9Z"/>
<path d="M663.7,258.6L670.0,264.9L663.7,271.2L657.4,264.9Z"/>
<path d="M670.3,257.2L676.6,263.5L670.3,269.8L664.0,263.5Z"/>
<path d="M676.9,253.5L683.2,259.8L676.9,266.1L670.6,259.8Z"/>
</g>
<path d="M388.6,284.30 389.4,284.28 390.2,284.23 391.0,284.14 391.8,284.02 392.6,283.86 393.4,283.66 394.2,283.43 395.0,283.16 395.8,282.86 396.6,282.52 397.4,282.15 398.2,281.75 399.0,281.32 399.8,280.86 400.6,280.38 401.4,279.87 402.2,279.35 403.0,278.80 403.8,278.23 404.7,277.66 405.5,277.07 406.3,276.47 407.1,275.87 407.9,275.26 408.7,274.66 409.5,274.06 410.3,273.46 411.1,272.88 411.9,272.31 412.7,271.76 413.5,271.23 414.3,270.72 415.1,270.23 415.9,269.78 416.7,269.35 417.5,268.96 418.3,268.60 419.1,268.28 419.9,268.00 420.7,267.76 421.5,267.56 422.3,267.40 423.1,267.29 423.9,267.22 424.7,267.20 425.5,267.22 426.3,267.29 427.1,267.40 427.9,267.56 428.7,267.76 429.5,268.00 430.3,268.28 431.1,268.60 431.9,268.96 432.7,269.35 433.5,269.78 434.3,270.23 435.2,270.72 436.0,271.23 436.8,271.76 437.6,272.31 438.4,272.88 439.2,273.46 440.0,274.06 440.8,274.66 441.6,275.26 442.4,275.87 443.2,276.47 444.0,277.07 444.8,277.66 445.6,278.23 446.4,278.80 447.2,279.35 448.0,279.87 448.8,280.38 449.6,280.86 450.4,281.32 451.2,281.75 452.0,282.15 452.8,282.52 453.6,282.86 454.4,283.16 455.2,283.43 456.0,283.66 456.8,283.86 457.6,284.02 458.4,284.14 459.2,284.23 460.0,284.28 460.8,284.30 461.6,284.28 462.4,284.23 463.2,284.15 464.0,284.03 464.8,283.89 465.6,283.71 466.5,283.51 467.3,283.28 468.1,283.02 468.9,282.75 469.7,282.45 470.5,282.13 471.3,281.80 472.1,281.45 472.9,281.09 473.7,280.72 474.5,280.34 475.3,279.96 476.1,279.56 476.9,279.17 477.7,278.77 478.5,278.38 479.3,277.99 480.1,277.60 480.9,277.22 481.7,276.85 482.5,276.48 483.3,276.13 484.1,275.79 484.9,275.46 485.7,275.15 486.5,274.86 487.3,274.58 488.1,274.32 488.9,274.08 489.7,273.86 490.5,273.66 491.3,273.49 492.1,273.33 492.9,273.20 493.7,273.09 494.5,273.01 495.3,272.95 496.1,272.91 497.0,272.90 497.8,272.91 498.6,272.95 499.4,273.01 500.2,273.09 501.0,273.20 501.8,273.33 502.6,273.49 503.4,273.66 504.2,273.86 505.0,274.08 505.8,274.32 506.6,274.58 507.4,274.86 508.2,275.15 509.0,275.46 509.8,275.79 510.6,276.13 511.4,276.48 512.2,276.85 513.0,277.22 513.8,277.60 514.6,277.99 515.4,278.38 516.2,278.77 517.0,279.17 517.8,279.56 518.6,279.96 519.4,280.34 520.2,280.72 521.0,281.09 521.8,281.45 522.6,281.80 523.4,282.13 524.2,282.45 525.0,282.75 525.8,283.02 526.6,283.28 527.4,283.51 528.3,283.71 529.1,283.89 529.9,284.03 530.7,284.15 531.5,284.23 532.3,284.28 533.1,284.30 533.9,284.28 534.7,284.23 535.5,284.14 536.3,284.02 537.1,283.86 537.9,283.66 538.7,283.43 539.5,283.16 540.3,282.86 541.1,282.52 541.9,282.15 542.7,281.75 543.5,281.32 544.3,280.86 545.1,280.38 545.9,279.87 546.7,279.35 547.5,278.80 548.3,278.23 549.1,277.66 549.9,277.07 550.7,276.47 551.5,275.87 552.3,275.26 553.1,274.66 553.9,274.06 554.7,273.46 555.5,272.88 556.3,272.31 557.1,271.76 557.9,271.23 558.8,270.72 559.6,270.23 560.4,269.78 561.2,269.35 562.0,268.96 562.8,268.60 563.6,268.28 564.4,268.00 565.2,267.76 566.0,267.56 566.8,267.40 567.6,267.29 568.4,267.22 569.2,267.20 570.0,267.22 570.8,267.29 571.6,267.40 572.4,267.56 573.2,267.76 574.0,268.00 574.8,268.28 575.6,268.60 576.4,268.96 577.2,269.35 578.0,269.78 578.8,270.23 579.6,270.72 580.4,271.23 581.2,271.76 582.0,272.31 582.8,272.88 583.6,273.46 584.4,274.06 585.2,274.66 586.0,275.26 586.8,275.87 587.6,276.47 588.4,277.07 589.2,277.66 590.1,278.23 590.9,278.80 591.7,279.35 592.5,279.87 593.3,280.38 594.1,280.86 594.9,281.32 595.7,281.75 596.5,282.15 597.3,282.52 598.1,282.86 598.9,283.16 599.7,283.43 600.5,283.66 601.3,283.86 602.1,284.02 602.9,284.14 603.7,284.23 604.5,284.28 605.3,284.30 606.1,284.28 606.9,284.23 607.7,284.15 608.5,284.03 609.3,283.89 610.1,283.71 610.9,283.51 611.7,283.28 612.5,283.02 613.3,282.75 614.1,282.45 614.9,282.13 615.7,281.80 616.5,281.45 617.3,281.09 618.1,280.72 618.9,280.34 619.7,279.96 620.6,279.56 621.4,279.17 622.2,278.77 623.0,278.38 623.8,277.99 624.6,277.60 625.4,277.22 626.2,276.85 627.0,276.48 627.8,276.13 628.6,275.79 629.4,275.46 630.2,275.15 631.0,274.86 631.8,274.58 632.6,274.32 633.4,274.08 634.2,273.86 635.0,273.66 635.8,273.49 636.6,273.33 637.4,273.20 638.2,273.09 639.0,273.01 639.8,272.95 640.6,272.91 641.4,272.90 642.2,272.91 643.0,272.95 643.8,273.01 644.6,273.09 645.4,273.20 646.2,273.33 647.0,273.49 647.8,273.66 648.6,273.86 649.4,274.08 650.2,274.32 651.1,274.58 651.9,274.86 652.7,275.15 653.5,275.46 654.3,275.79 655.1,276.13 655.9,276.48 656.7,276.85 657.5,277.22 658.3,277.60 659.1,277.99 659.9,278.38 660.7,278.77 661.5,279.17 662.3,279.56 663.1,279.96 663.9,280.34 664.7,280.72 665.5,281.09 666.3,281.45 667.1,281.80 667.9,282.13 668.7,282.45 669.5,282.75 670.3,283.02 671.1,283.28 671.9,283.51 672.7,283.71 673.5,283.89 674.3,284.03 675.1,284.15 675.9,284.23 676.7,284.28 677.5,284.30" stroke="#0000ff" stroke-width="1.55" fill="none"/>
</g>
<g stroke="#333" stroke-width="1.1" fill="none">
<rect x="388.5" y="15.5" width="289" height="269.5"/>
<line x1="388.5" y1="150" x2="677.5" y2="150"/>
<line x1="424.7" y1="15.5" x2="424.7" y2="19"/>
<line x1="424.7" y1="146.2" x2="424.7" y2="153.6"/>
<line x1="424.7" y1="285" x2="424.7" y2="281.5"/>
<line x1="460.8" y1="15.5" x2="460.8" y2="19"/>
<line x1="460.8" y1="143" x2="460.8" y2="156.8"/>
<line x1="460.8" y1="285" x2="460.8" y2="281.5"/>
<line x1="497.0" y1="15.5" x2="497.0" y2="19"/>
<line x1="497.0" y1="146.2" x2="497.0" y2="153.6"/>
<line x1="497.0" y1="285" x2="497.0" y2="281.5"/>
<line x1="533.1" y1="15.5" x2="533.1" y2="19"/>
<line x1="533.1" y1="143" x2="533.1" y2="156.8"/>
<line x1="533.1" y1="285" x2="533.1" y2="281.5"/>
<line x1="569.2" y1="15.5" x2="569.2" y2="19"/>
<line x1="569.2" y1="146.2" x2="569.2" y2="153.6"/>
<line x1="569.2" y1="285" x2="569.2" y2="281.5"/>
<line x1="605.3" y1="15.5" x2="605.3" y2="19"/>
<line x1="605.3" y1="143" x2="605.3" y2="156.8"/>
<line x1="605.3" y1="285" x2="605.3" y2="281.5"/>
<line x1="641.4" y1="15.5" x2="641.4" y2="19"/>
<line x1="641.4" y1="146.2" x2="641.4" y2="153.6"/>
<line x1="641.4" y1="285" x2="641.4" y2="281.5"/>
<line x1="388.5" y1="48.6" x2="392.5" y2="48.6"/>
<line x1="677.5" y1="48.6" x2="673.7" y2="48.6"/>
<line x1="388.5" y1="82" x2="392.5" y2="82"/>
<line x1="677.5" y1="82" x2="673.7" y2="82"/>
<line x1="388.5" y1="217.5" x2="392.5" y2="217.5"/>
<line x1="677.5" y1="217.5" x2="673.7" y2="217.5"/>
<line x1="388.5" y1="250.8" x2="392.5" y2="250.8"/>
<line x1="677.5" y1="250.8" x2="673.7" y2="250.8"/>
</g>
<text x="405.7" y="37.0" font-size="9.5" fill="#222" textLength="30.3" lengthAdjust="spacingAndGlyphs">parallel</text>
<text x="449" y="172.4" font-size="9.5" fill="#222" textLength="33.4" lengthAdjust="spacingAndGlyphs">crossed</text>
<text x="651.2" y="85.7" font-size="10" fill="#0000ff" textLength="14.2" lengthAdjust="spacingAndGlyphs">0 T</text>
<text x="645.9" y="138" font-size="10" fill="#ff0000" textLength="19.5" lengthAdjust="spacingAndGlyphs">+7 T</text>
<text x="510.4" y="243.8" font-size="10" fill="#289628" textLength="17.3" lengthAdjust="spacingAndGlyphs">-7 T</text>
<text x="611.6" y="172" font-size="10" fill="#ff0000" textLength="19.8" lengthAdjust="spacingAndGlyphs">+7 T</text>
<text x="616.5" y="263" font-size="10" fill="#0000ff" textLength="14.2" lengthAdjust="spacingAndGlyphs">0 T</text>
<text x="461.5" y="5.1" font-size="10" fill="#888" text-anchor="middle">aa</text>
<text x="533.8" y="5.1" font-size="10" fill="#888" text-anchor="middle">cc</text>
<text x="606.0" y="5.1" font-size="10" fill="#888" text-anchor="middle">aa</text>
<text x="388.6" y="300.3" font-size="10" fill="#222" text-anchor="middle">0</text>
<text x="460.8" y="300.3" font-size="10" fill="#222" text-anchor="middle">90</text>
<text x="533.1" y="300.3" font-size="10" fill="#222" text-anchor="middle">180</text>
<text x="605.3" y="300.3" font-size="10" fill="#222" text-anchor="middle">270</text>
<text x="677.5" y="300.3" font-size="10" fill="#222" text-anchor="middle">360</text>
<text x="424.7" y="297.4" font-size="10" fill="#888" text-anchor="middle">c'a'</text>
<text x="497.0" y="297.4" font-size="10" fill="#888" text-anchor="middle">a'c'</text>
<text x="569.2" y="297.4" font-size="10" fill="#888" text-anchor="middle">c'a'</text>
<text x="641.4" y="297.4" font-size="10" fill="#888" text-anchor="middle">a'c'</text>
<text transform="translate(374.9,193.3) rotate(-90)" font-size="9.4" fill="#222" textLength="76.2" lengthAdjust="spacingAndGlyphs">Intensity (arb. un.)</text>
<text x="498.1" y="318.6" font-size="9.5" fill="#222" textLength="70.1" lengthAdjust="spacingAndGlyphs">Polarization <tspan font-family="Liberation Serif" font-size="10">θ</tspan> (°)</text>
</svg>
</body></html>
